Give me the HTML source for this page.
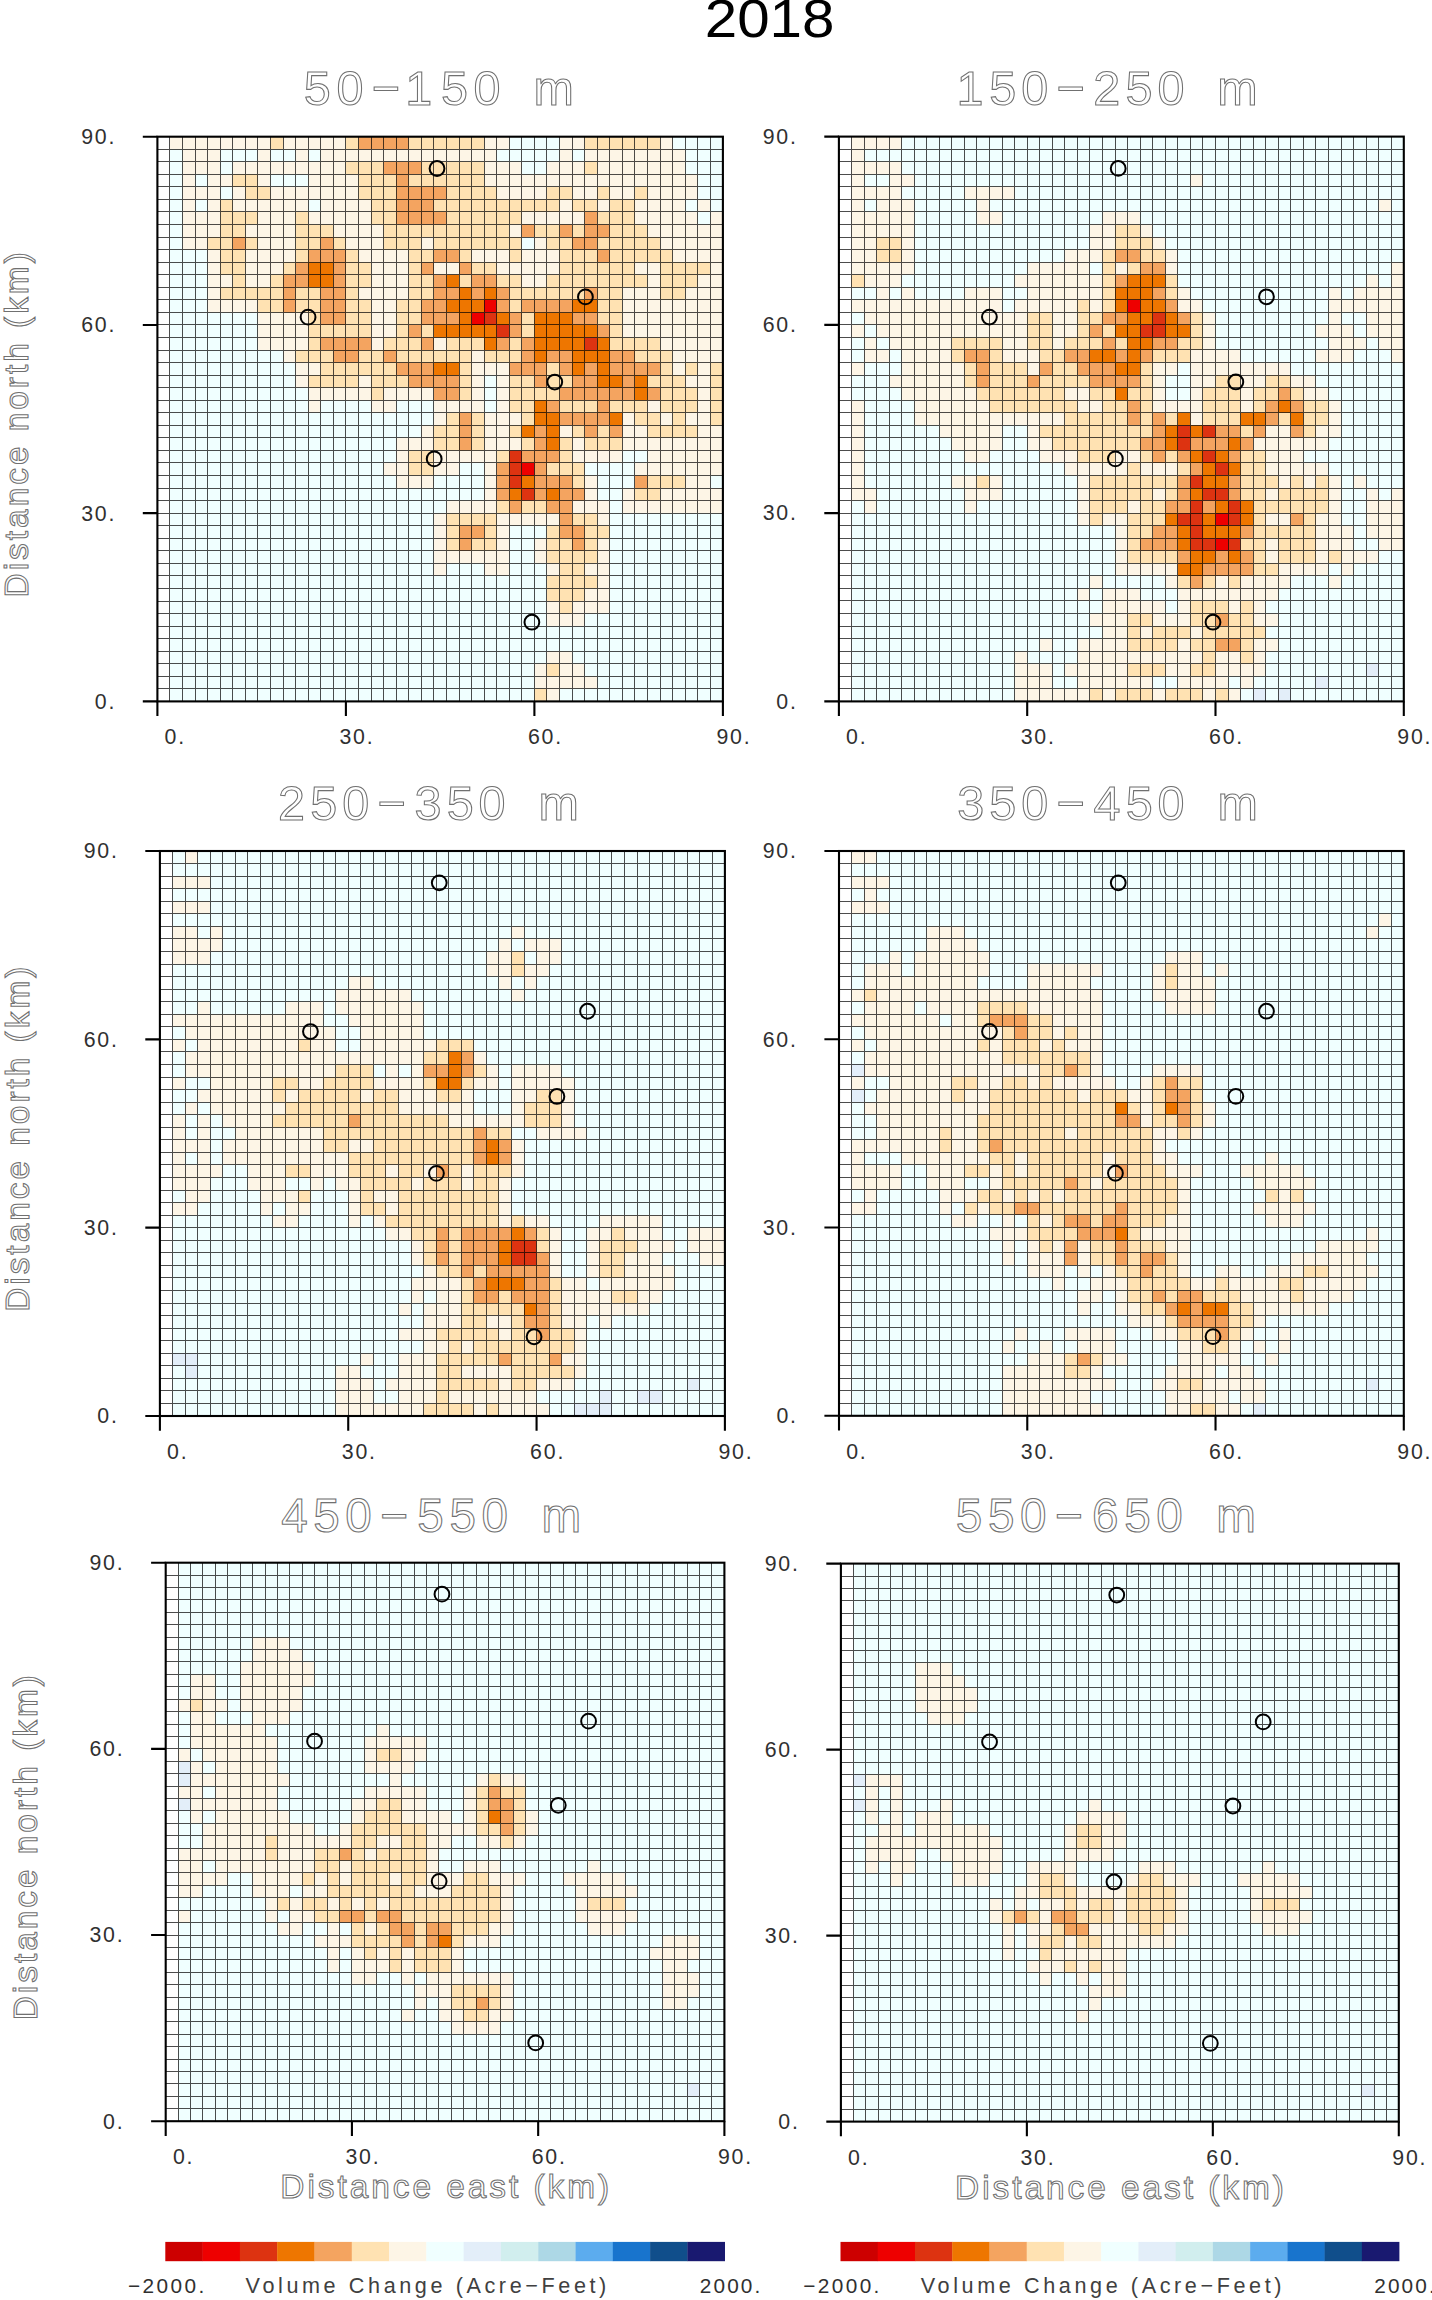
<!DOCTYPE html>
<html><head><meta charset="utf-8"><style>
html,body{margin:0;padding:0;background:#fff;}
svg{display:block;font-family:"Liberation Sans",sans-serif;}
</style></head><body>
<svg width="1432" height="2300" viewBox="0 0 1432 2300">
<rect width="1432" height="2300" fill="#fff"/>
<rect x="157.4" y="136.7" width="565.5" height="564.7" fill="#f0ffff"/>
<rect x="157.4" y="136.7" width="12.57" height="564.7" fill="#fff"/>
<path fill="#fdf5e6" d="M169.97 136.7h100.53v12.55h-100.53zM283.07 136.7h62.83v12.55h-62.83zM484.13 136.7h25.13v12.55h-25.13zM559.53 136.7h25.13v12.55h-25.13zM660.07 136.7h12.57v12.55h-12.57zM182.53 149.25h37.7v12.55h-37.7zM257.93 149.25h12.57v12.55h-12.57zM295.63 149.25h12.57v12.55h-12.57zM320.77 149.25h175.93v12.55h-175.93zM559.53 149.25h12.57v12.55h-12.57zM584.67 149.25h100.53v12.55h-100.53zM182.53 161.8h37.7v12.55h-37.7zM232.8 161.8h113.1v12.55h-113.1zM484.13 161.8h37.7v12.55h-37.7zM546.97 161.8h37.7v12.55h-37.7zM597.23 161.8h87.97v12.55h-87.97zM182.53 174.35h12.57v12.55h-12.57zM207.67 174.35h25.13v12.55h-25.13zM257.93 174.35h12.57v12.55h-12.57zM308.2 174.35h50.27v12.55h-50.27zM484.13 174.35h213.63v12.55h-213.63zM182.53 186.9h37.7v12.55h-37.7zM232.8 186.9h12.57v12.55h-12.57zM270.5 186.9h87.97v12.55h-87.97zM496.7 186.9h50.27v12.55h-50.27zM572.1 186.9h25.13v12.55h-25.13zM609.8 186.9h25.13v12.55h-25.13zM647.5 186.9h50.27v12.55h-50.27zM182.53 199.44h12.57v12.55h-12.57zM207.67 199.44h12.57v12.55h-12.57zM232.8 199.44h75.4v12.55h-75.4zM320.77 199.44h50.27v12.55h-50.27zM559.53 199.44h12.57v12.55h-12.57zM597.23 199.44h12.57v12.55h-12.57zM634.93 199.44h50.27v12.55h-50.27zM697.77 199.44h12.57v12.55h-12.57zM182.53 211.99h37.7v12.55h-37.7zM257.93 211.99h37.7v12.55h-37.7zM308.2 211.99h62.83v12.55h-62.83zM521.83 211.99h62.83v12.55h-62.83zM634.93 211.99h62.83v12.55h-62.83zM710.33 211.99h12.57v12.55h-12.57zM182.53 224.54h37.7v12.55h-37.7zM245.37 224.54h50.27v12.55h-50.27zM333.33 224.54h50.27v12.55h-50.27zM509.27 224.54h12.57v12.55h-12.57zM647.5 224.54h75.4v12.55h-75.4zM182.53 237.09h25.13v12.55h-25.13zM257.93 237.09h37.7v12.55h-37.7zM345.9 237.09h37.7v12.55h-37.7zM421.3 237.09h12.57v12.55h-12.57zM534.4 237.09h12.57v12.55h-12.57zM660.07 237.09h62.83v12.55h-62.83zM207.67 249.64h12.57v12.55h-12.57zM245.37 249.64h50.27v12.55h-50.27zM358.47 249.64h50.27v12.55h-50.27zM471.57 249.64h37.7v12.55h-37.7zM521.83 249.64h37.7v12.55h-37.7zM672.63 249.64h50.27v12.55h-50.27zM207.67 262.19h12.57v12.55h-12.57zM245.37 262.19h37.7v12.55h-37.7zM371.03 262.19h37.7v12.55h-37.7zM433.87 262.19h25.13v12.55h-25.13zM496.7 262.19h62.83v12.55h-62.83zM634.93 262.19h25.13v12.55h-25.13zM710.33 262.19h12.57v12.55h-12.57zM207.67 274.74h25.13v12.55h-25.13zM245.37 274.74h25.13v12.55h-25.13zM371.03 274.74h37.7v12.55h-37.7zM521.83 274.74h25.13v12.55h-25.13zM647.5 274.74h12.57v12.55h-12.57zM697.77 274.74h25.13v12.55h-25.13zM207.67 287.29h12.57v12.55h-12.57zM358.47 287.29h50.27v12.55h-50.27zM622.37 287.29h37.7v12.55h-37.7zM685.2 287.29h37.7v12.55h-37.7zM207.67 299.84h50.27v12.55h-50.27zM371.03 299.84h25.13v12.55h-25.13zM622.37 299.84h100.53v12.55h-100.53zM257.93 312.38h50.27v12.55h-50.27zM371.03 312.38h25.13v12.55h-25.13zM622.37 312.38h100.53v12.55h-100.53zM257.93 324.93h50.27v12.55h-50.27zM371.03 324.93h25.13v12.55h-25.13zM622.37 324.93h100.53v12.55h-100.53zM257.93 337.48h50.27v12.55h-50.27zM371.03 337.48h12.57v12.55h-12.57zM433.87 337.48h12.57v12.55h-12.57zM660.07 337.48h62.83v12.55h-62.83zM283.07 350.03h12.57v12.55h-12.57zM471.57 350.03h12.57v12.55h-12.57zM672.63 350.03h50.27v12.55h-50.27zM295.63 362.58h25.13v12.55h-25.13zM471.57 362.58h37.7v12.55h-37.7zM672.63 362.58h12.57v12.55h-12.57zM697.77 362.58h12.57v12.55h-12.57zM295.63 375.13h12.57v12.55h-12.57zM358.47 375.13h12.57v12.55h-12.57zM471.57 375.13h12.57v12.55h-12.57zM496.7 375.13h12.57v12.55h-12.57zM685.2 375.13h25.13v12.55h-25.13zM308.2 387.68h62.83v12.55h-62.83zM383.6 387.68h50.27v12.55h-50.27zM471.57 387.68h12.57v12.55h-12.57zM496.7 387.68h12.57v12.55h-12.57zM697.77 387.68h12.57v12.55h-12.57zM308.2 400.23h12.57v12.55h-12.57zM371.03 400.23h25.13v12.55h-25.13zM433.87 400.23h50.27v12.55h-50.27zM496.7 400.23h12.57v12.55h-12.57zM647.5 400.23h12.57v12.55h-12.57zM697.77 400.23h12.57v12.55h-12.57zM433.87 412.78h12.57v12.55h-12.57zM484.13 412.78h37.7v12.55h-37.7zM622.37 412.78h12.57v12.55h-12.57zM660.07 412.78h12.57v12.55h-12.57zM685.2 412.78h25.13v12.55h-25.13zM421.3 425.32h12.57v12.55h-12.57zM484.13 425.32h25.13v12.55h-25.13zM559.53 425.32h12.57v12.55h-12.57zM622.37 425.32h25.13v12.55h-25.13zM697.77 425.32h25.13v12.55h-25.13zM396.17 437.87h37.7v12.55h-37.7zM484.13 437.87h37.7v12.55h-37.7zM572.1 437.87h12.57v12.55h-12.57zM622.37 437.87h100.53v12.55h-100.53zM396.17 450.42h12.57v12.55h-12.57zM433.87 450.42h62.83v12.55h-62.83zM572.1 450.42h50.27v12.55h-50.27zM647.5 450.42h75.4v12.55h-75.4zM383.6 462.97h25.13v12.55h-25.13zM433.87 462.97h25.13v12.55h-25.13zM484.13 462.97h12.57v12.55h-12.57zM634.93 462.97h87.97v12.55h-87.97zM396.17 475.52h37.7v12.55h-37.7zM484.13 475.52h12.57v12.55h-12.57zM584.67 475.52h12.57v12.55h-12.57zM685.2 475.52h25.13v12.55h-25.13zM484.13 488.07h12.57v12.55h-12.57zM584.67 488.07h12.57v12.55h-12.57zM622.37 488.07h12.57v12.55h-12.57zM660.07 488.07h62.83v12.55h-62.83zM446.43 500.62h50.27v12.55h-50.27zM572.1 500.62h37.7v12.55h-37.7zM622.37 500.62h100.53v12.55h-100.53zM433.87 513.17h12.57v12.55h-12.57zM496.7 513.17h62.83v12.55h-62.83zM597.23 513.17h12.57v12.55h-12.57zM433.87 525.72h12.57v12.55h-12.57zM496.7 525.72h12.57v12.55h-12.57zM433.87 538.26h12.57v12.55h-12.57zM496.7 538.26h12.57v12.55h-12.57zM534.4 538.26h12.57v12.55h-12.57zM597.23 538.26h12.57v12.55h-12.57zM433.87 550.81h75.4v12.55h-75.4zM534.4 550.81h12.57v12.55h-12.57zM597.23 550.81h12.57v12.55h-12.57zM433.87 563.36h12.57v12.55h-12.57zM484.13 563.36h25.13v12.55h-25.13zM546.97 563.36h12.57v12.55h-12.57zM584.67 563.36h25.13v12.55h-25.13zM597.23 575.91h12.57v12.55h-12.57zM584.67 588.46h25.13v12.55h-25.13zM546.97 601.01h12.57v12.55h-12.57zM572.1 601.01h37.7v12.55h-37.7zM546.97 613.56h37.7v12.55h-37.7zM546.97 651.2h25.13v12.55h-25.13zM534.4 663.75h12.57v12.55h-12.57zM559.53 663.75h25.13v12.55h-25.13zM534.4 676.3h62.83v12.55h-62.83zM546.97 688.85h12.57v12.55h-12.57z"/>
<path fill="#ffe2b2" d="M270.5 136.7h12.57v12.55h-12.57zM345.9 136.7h12.57v12.55h-12.57zM408.73 136.7h75.4v12.55h-75.4zM584.67 136.7h75.4v12.55h-75.4zM345.9 161.8h37.7v12.55h-37.7zM421.3 161.8h62.83v12.55h-62.83zM584.67 161.8h12.57v12.55h-12.57zM232.8 174.35h25.13v12.55h-25.13zM358.47 174.35h37.7v12.55h-37.7zM408.73 174.35h75.4v12.55h-75.4zM245.37 186.9h25.13v12.55h-25.13zM358.47 186.9h37.7v12.55h-37.7zM446.43 186.9h50.27v12.55h-50.27zM546.97 186.9h25.13v12.55h-25.13zM597.23 186.9h12.57v12.55h-12.57zM634.93 186.9h12.57v12.55h-12.57zM220.23 199.44h12.57v12.55h-12.57zM371.03 199.44h25.13v12.55h-25.13zM433.87 199.44h125.67v12.55h-125.67zM572.1 199.44h25.13v12.55h-25.13zM609.8 199.44h25.13v12.55h-25.13zM220.23 211.99h37.7v12.55h-37.7zM295.63 211.99h12.57v12.55h-12.57zM371.03 211.99h25.13v12.55h-25.13zM446.43 211.99h75.4v12.55h-75.4zM597.23 211.99h37.7v12.55h-37.7zM220.23 224.54h25.13v12.55h-25.13zM295.63 224.54h37.7v12.55h-37.7zM383.6 224.54h125.67v12.55h-125.67zM534.4 224.54h25.13v12.55h-25.13zM572.1 224.54h12.57v12.55h-12.57zM609.8 224.54h37.7v12.55h-37.7zM207.67 237.09h25.13v12.55h-25.13zM245.37 237.09h12.57v12.55h-12.57zM295.63 237.09h25.13v12.55h-25.13zM333.33 237.09h12.57v12.55h-12.57zM383.6 237.09h37.7v12.55h-37.7zM433.87 237.09h87.97v12.55h-87.97zM546.97 237.09h25.13v12.55h-25.13zM597.23 237.09h62.83v12.55h-62.83zM220.23 249.64h25.13v12.55h-25.13zM295.63 249.64h12.57v12.55h-12.57zM345.9 249.64h12.57v12.55h-12.57zM408.73 249.64h25.13v12.55h-25.13zM459 249.64h12.57v12.55h-12.57zM509.27 249.64h12.57v12.55h-12.57zM559.53 249.64h37.7v12.55h-37.7zM609.8 249.64h62.83v12.55h-62.83zM220.23 262.19h25.13v12.55h-25.13zM283.07 262.19h12.57v12.55h-12.57zM345.9 262.19h25.13v12.55h-25.13zM408.73 262.19h12.57v12.55h-12.57zM471.57 262.19h25.13v12.55h-25.13zM559.53 262.19h75.4v12.55h-75.4zM660.07 262.19h50.27v12.55h-50.27zM232.8 274.74h12.57v12.55h-12.57zM270.5 274.74h12.57v12.55h-12.57zM345.9 274.74h25.13v12.55h-25.13zM408.73 274.74h25.13v12.55h-25.13zM459 274.74h12.57v12.55h-12.57zM496.7 274.74h25.13v12.55h-25.13zM546.97 274.74h100.53v12.55h-100.53zM660.07 274.74h37.7v12.55h-37.7zM220.23 287.29h62.83v12.55h-62.83zM295.63 287.29h25.13v12.55h-25.13zM345.9 287.29h12.57v12.55h-12.57zM408.73 287.29h25.13v12.55h-25.13zM509.27 287.29h75.4v12.55h-75.4zM597.23 287.29h25.13v12.55h-25.13zM660.07 287.29h25.13v12.55h-25.13zM257.93 299.84h25.13v12.55h-25.13zM295.63 299.84h25.13v12.55h-25.13zM345.9 299.84h25.13v12.55h-25.13zM396.17 299.84h25.13v12.55h-25.13zM509.27 299.84h12.57v12.55h-12.57zM597.23 299.84h25.13v12.55h-25.13zM308.2 312.38h12.57v12.55h-12.57zM345.9 312.38h25.13v12.55h-25.13zM396.17 312.38h25.13v12.55h-25.13zM521.83 312.38h12.57v12.55h-12.57zM597.23 312.38h25.13v12.55h-25.13zM308.2 324.93h62.83v12.55h-62.83zM396.17 324.93h12.57v12.55h-12.57zM421.3 324.93h12.57v12.55h-12.57zM521.83 324.93h12.57v12.55h-12.57zM609.8 324.93h12.57v12.55h-12.57zM308.2 337.48h12.57v12.55h-12.57zM383.6 337.48h37.7v12.55h-37.7zM446.43 337.48h37.7v12.55h-37.7zM509.27 337.48h12.57v12.55h-12.57zM609.8 337.48h50.27v12.55h-50.27zM295.63 350.03h37.7v12.55h-37.7zM358.47 350.03h25.13v12.55h-25.13zM396.17 350.03h75.4v12.55h-75.4zM484.13 350.03h37.7v12.55h-37.7zM634.93 350.03h37.7v12.55h-37.7zM320.77 362.58h75.4v12.55h-75.4zM459 362.58h12.57v12.55h-12.57zM546.97 362.58h12.57v12.55h-12.57zM660.07 362.58h12.57v12.55h-12.57zM685.2 362.58h12.57v12.55h-12.57zM710.33 362.58h12.57v12.55h-12.57zM308.2 375.13h50.27v12.55h-50.27zM371.03 375.13h37.7v12.55h-37.7zM459 375.13h12.57v12.55h-12.57zM509.27 375.13h25.13v12.55h-25.13zM546.97 375.13h25.13v12.55h-25.13zM647.5 375.13h37.7v12.55h-37.7zM710.33 375.13h12.57v12.55h-12.57zM371.03 387.68h12.57v12.55h-12.57zM459 387.68h12.57v12.55h-12.57zM509.27 387.68h50.27v12.55h-50.27zM660.07 387.68h37.7v12.55h-37.7zM710.33 387.68h12.57v12.55h-12.57zM509.27 400.23h25.13v12.55h-25.13zM559.53 400.23h37.7v12.55h-37.7zM609.8 400.23h37.7v12.55h-37.7zM660.07 400.23h37.7v12.55h-37.7zM710.33 400.23h12.57v12.55h-12.57zM446.43 412.78h12.57v12.55h-12.57zM471.57 412.78h12.57v12.55h-12.57zM521.83 412.78h12.57v12.55h-12.57zM634.93 412.78h25.13v12.55h-25.13zM672.63 412.78h12.57v12.55h-12.57zM710.33 412.78h12.57v12.55h-12.57zM433.87 425.32h25.13v12.55h-25.13zM471.57 425.32h12.57v12.55h-12.57zM509.27 425.32h12.57v12.55h-12.57zM572.1 425.32h12.57v12.55h-12.57zM597.23 425.32h12.57v12.55h-12.57zM647.5 425.32h50.27v12.55h-50.27zM433.87 437.87h25.13v12.55h-25.13zM471.57 437.87h12.57v12.55h-12.57zM521.83 437.87h12.57v12.55h-12.57zM559.53 437.87h12.57v12.55h-12.57zM584.67 437.87h37.7v12.55h-37.7zM408.73 450.42h25.13v12.55h-25.13zM496.7 450.42h12.57v12.55h-12.57zM559.53 450.42h12.57v12.55h-12.57zM408.73 462.97h25.13v12.55h-25.13zM546.97 462.97h37.7v12.55h-37.7zM572.1 475.52h12.57v12.55h-12.57zM647.5 475.52h37.7v12.55h-37.7zM634.93 488.07h25.13v12.55h-25.13zM496.7 500.62h12.57v12.55h-12.57zM521.83 500.62h25.13v12.55h-25.13zM446.43 513.17h50.27v12.55h-50.27zM572.1 513.17h25.13v12.55h-25.13zM446.43 525.72h12.57v12.55h-12.57zM484.13 525.72h12.57v12.55h-12.57zM546.97 525.72h12.57v12.55h-12.57zM584.67 525.72h25.13v12.55h-25.13zM446.43 538.26h12.57v12.55h-12.57zM471.57 538.26h25.13v12.55h-25.13zM546.97 538.26h25.13v12.55h-25.13zM584.67 538.26h12.57v12.55h-12.57zM546.97 550.81h50.27v12.55h-50.27zM559.53 563.36h25.13v12.55h-25.13zM546.97 575.91h50.27v12.55h-50.27zM546.97 588.46h37.7v12.55h-37.7zM559.53 601.01h12.57v12.55h-12.57zM546.97 663.75h12.57v12.55h-12.57zM534.4 688.85h12.57v12.55h-12.57z"/>
<path fill="#f4a460" d="M358.47 136.7h50.27v12.55h-50.27zM383.6 161.8h37.7v12.55h-37.7zM396.17 174.35h12.57v12.55h-12.57zM396.17 186.9h50.27v12.55h-50.27zM396.17 199.44h37.7v12.55h-37.7zM396.17 211.99h50.27v12.55h-50.27zM584.67 211.99h12.57v12.55h-12.57zM521.83 224.54h12.57v12.55h-12.57zM559.53 224.54h12.57v12.55h-12.57zM584.67 224.54h25.13v12.55h-25.13zM232.8 237.09h12.57v12.55h-12.57zM320.77 237.09h12.57v12.55h-12.57zM572.1 237.09h25.13v12.55h-25.13zM308.2 249.64h37.7v12.55h-37.7zM433.87 249.64h25.13v12.55h-25.13zM597.23 249.64h12.57v12.55h-12.57zM295.63 262.19h12.57v12.55h-12.57zM333.33 262.19h12.57v12.55h-12.57zM421.3 262.19h12.57v12.55h-12.57zM459 262.19h12.57v12.55h-12.57zM283.07 274.74h25.13v12.55h-25.13zM333.33 274.74h12.57v12.55h-12.57zM433.87 274.74h12.57v12.55h-12.57zM471.57 274.74h25.13v12.55h-25.13zM283.07 287.29h12.57v12.55h-12.57zM320.77 287.29h25.13v12.55h-25.13zM433.87 287.29h25.13v12.55h-25.13zM471.57 287.29h12.57v12.55h-12.57zM496.7 287.29h12.57v12.55h-12.57zM584.67 287.29h12.57v12.55h-12.57zM283.07 299.84h12.57v12.55h-12.57zM320.77 299.84h25.13v12.55h-25.13zM421.3 299.84h25.13v12.55h-25.13zM496.7 299.84h12.57v12.55h-12.57zM521.83 299.84h50.27v12.55h-50.27zM320.77 312.38h25.13v12.55h-25.13zM421.3 312.38h37.7v12.55h-37.7zM509.27 312.38h12.57v12.55h-12.57zM572.1 312.38h25.13v12.55h-25.13zM408.73 324.93h12.57v12.55h-12.57zM509.27 324.93h12.57v12.55h-12.57zM597.23 324.93h12.57v12.55h-12.57zM320.77 337.48h50.27v12.55h-50.27zM421.3 337.48h12.57v12.55h-12.57zM496.7 337.48h12.57v12.55h-12.57zM521.83 337.48h12.57v12.55h-12.57zM333.33 350.03h25.13v12.55h-25.13zM383.6 350.03h12.57v12.55h-12.57zM521.83 350.03h12.57v12.55h-12.57zM546.97 350.03h25.13v12.55h-25.13zM609.8 350.03h25.13v12.55h-25.13zM396.17 362.58h37.7v12.55h-37.7zM509.27 362.58h37.7v12.55h-37.7zM559.53 362.58h12.57v12.55h-12.57zM584.67 362.58h12.57v12.55h-12.57zM609.8 362.58h50.27v12.55h-50.27zM408.73 375.13h50.27v12.55h-50.27zM534.4 375.13h12.57v12.55h-12.57zM572.1 375.13h25.13v12.55h-25.13zM622.37 375.13h12.57v12.55h-12.57zM433.87 387.68h25.13v12.55h-25.13zM559.53 387.68h75.4v12.55h-75.4zM647.5 387.68h12.57v12.55h-12.57zM546.97 400.23h12.57v12.55h-12.57zM597.23 400.23h12.57v12.55h-12.57zM459 412.78h12.57v12.55h-12.57zM559.53 412.78h50.27v12.55h-50.27zM459 425.32h12.57v12.55h-12.57zM534.4 425.32h12.57v12.55h-12.57zM584.67 425.32h12.57v12.55h-12.57zM609.8 425.32h12.57v12.55h-12.57zM459 437.87h12.57v12.55h-12.57zM534.4 437.87h12.57v12.55h-12.57zM521.83 450.42h37.7v12.55h-37.7zM496.7 462.97h12.57v12.55h-12.57zM534.4 462.97h12.57v12.55h-12.57zM496.7 475.52h12.57v12.55h-12.57zM534.4 475.52h37.7v12.55h-37.7zM634.93 475.52h12.57v12.55h-12.57zM496.7 488.07h12.57v12.55h-12.57zM534.4 488.07h12.57v12.55h-12.57zM559.53 488.07h25.13v12.55h-25.13zM509.27 500.62h12.57v12.55h-12.57zM546.97 500.62h25.13v12.55h-25.13zM559.53 513.17h12.57v12.55h-12.57zM459 525.72h25.13v12.55h-25.13zM559.53 525.72h25.13v12.55h-25.13zM459 538.26h12.57v12.55h-12.57zM572.1 538.26h12.57v12.55h-12.57z"/>
<path fill="#ee7600" d="M308.2 262.19h25.13v12.55h-25.13zM308.2 274.74h25.13v12.55h-25.13zM446.43 274.74h12.57v12.55h-12.57zM459 287.29h12.57v12.55h-12.57zM484.13 287.29h12.57v12.55h-12.57zM446.43 299.84h37.7v12.55h-37.7zM572.1 299.84h25.13v12.55h-25.13zM459 312.38h12.57v12.55h-12.57zM496.7 312.38h12.57v12.55h-12.57zM534.4 312.38h37.7v12.55h-37.7zM433.87 324.93h62.83v12.55h-62.83zM534.4 324.93h62.83v12.55h-62.83zM484.13 337.48h12.57v12.55h-12.57zM534.4 337.48h50.27v12.55h-50.27zM597.23 337.48h12.57v12.55h-12.57zM534.4 350.03h12.57v12.55h-12.57zM572.1 350.03h37.7v12.55h-37.7zM433.87 362.58h25.13v12.55h-25.13zM572.1 362.58h12.57v12.55h-12.57zM597.23 362.58h12.57v12.55h-12.57zM597.23 375.13h25.13v12.55h-25.13zM634.93 375.13h12.57v12.55h-12.57zM634.93 387.68h12.57v12.55h-12.57zM534.4 400.23h12.57v12.55h-12.57zM534.4 412.78h25.13v12.55h-25.13zM609.8 412.78h12.57v12.55h-12.57zM521.83 425.32h12.57v12.55h-12.57zM546.97 425.32h12.57v12.55h-12.57zM546.97 437.87h12.57v12.55h-12.57zM521.83 475.52h12.57v12.55h-12.57zM509.27 488.07h12.57v12.55h-12.57zM546.97 488.07h12.57v12.55h-12.57z"/>
<path fill="#ee0000" d="M484.13 299.84h12.57v12.55h-12.57zM471.57 312.38h12.57v12.55h-12.57zM521.83 462.97h12.57v12.55h-12.57z"/>
<path fill="#dd3311" d="M484.13 312.38h12.57v12.55h-12.57zM496.7 324.93h12.57v12.55h-12.57zM584.67 337.48h12.57v12.55h-12.57zM509.27 450.42h12.57v12.55h-12.57zM509.27 462.97h12.57v12.55h-12.57zM509.27 475.52h12.57v12.55h-12.57zM521.83 488.07h12.57v12.55h-12.57z"/>
<path fill="none" stroke="#000" stroke-width="1" stroke-opacity="0.7" shape-rendering="crispEdges" d="M169.97 136.7V701.4M157.4 149.25H722.9M182.53 136.7V701.4M157.4 161.8H722.9M195.1 136.7V701.4M157.4 174.35H722.9M207.67 136.7V701.4M157.4 186.9H722.9M220.23 136.7V701.4M157.4 199.44H722.9M232.8 136.7V701.4M157.4 211.99H722.9M245.37 136.7V701.4M157.4 224.54H722.9M257.93 136.7V701.4M157.4 237.09H722.9M270.5 136.7V701.4M157.4 249.64H722.9M283.07 136.7V701.4M157.4 262.19H722.9M295.63 136.7V701.4M157.4 274.74H722.9M308.2 136.7V701.4M157.4 287.29H722.9M320.77 136.7V701.4M157.4 299.84H722.9M333.33 136.7V701.4M157.4 312.38H722.9M345.9 136.7V701.4M157.4 324.93H722.9M358.47 136.7V701.4M157.4 337.48H722.9M371.03 136.7V701.4M157.4 350.03H722.9M383.6 136.7V701.4M157.4 362.58H722.9M396.17 136.7V701.4M157.4 375.13H722.9M408.73 136.7V701.4M157.4 387.68H722.9M421.3 136.7V701.4M157.4 400.23H722.9M433.87 136.7V701.4M157.4 412.78H722.9M446.43 136.7V701.4M157.4 425.32H722.9M459 136.7V701.4M157.4 437.87H722.9M471.57 136.7V701.4M157.4 450.42H722.9M484.13 136.7V701.4M157.4 462.97H722.9M496.7 136.7V701.4M157.4 475.52H722.9M509.27 136.7V701.4M157.4 488.07H722.9M521.83 136.7V701.4M157.4 500.62H722.9M534.4 136.7V701.4M157.4 513.17H722.9M546.97 136.7V701.4M157.4 525.72H722.9M559.53 136.7V701.4M157.4 538.26H722.9M572.1 136.7V701.4M157.4 550.81H722.9M584.67 136.7V701.4M157.4 563.36H722.9M597.23 136.7V701.4M157.4 575.91H722.9M609.8 136.7V701.4M157.4 588.46H722.9M622.37 136.7V701.4M157.4 601.01H722.9M634.93 136.7V701.4M157.4 613.56H722.9M647.5 136.7V701.4M157.4 626.11H722.9M660.07 136.7V701.4M157.4 638.66H722.9M672.63 136.7V701.4M157.4 651.2H722.9M685.2 136.7V701.4M157.4 663.75H722.9M697.77 136.7V701.4M157.4 676.3H722.9M710.33 136.7V701.4M157.4 688.85H722.9"/>
<rect x="157.4" y="136.7" width="565.5" height="564.7" fill="none" stroke="#000" stroke-width="2.1"/>
<path stroke="#000" stroke-width="2.1" fill="none" d="M142.8 701.4H157.4M157.4 701.4V716.1M142.8 513.17H157.4M345.9 701.4V716.1M142.8 324.93H157.4M534.4 701.4V716.1M142.8 136.7H157.4M722.9 701.4V716.1"/>
<circle cx="437.01" cy="168.51" r="7.4" fill="none" stroke="#000" stroke-width="2"/>
<circle cx="308.07" cy="317.15" r="7.4" fill="none" stroke="#000" stroke-width="2"/>
<circle cx="585.42" cy="296.89" r="7.4" fill="none" stroke="#000" stroke-width="2"/>
<circle cx="554.76" cy="382.03" r="7.4" fill="none" stroke="#000" stroke-width="2"/>
<circle cx="434.18" cy="458.89" r="7.4" fill="none" stroke="#000" stroke-width="2"/>
<circle cx="531.89" cy="622.22" r="7.4" fill="none" stroke="#000" stroke-width="2"/>
<text x="94.78" y="708.73" font-size="21.3" letter-spacing="1.8" fill="#303030">0.</text>
<text x="164.58" y="744.33" font-size="21.3" letter-spacing="1.8" fill="#303030">0.</text>
<text x="81.13" y="520.5" font-size="21.3" letter-spacing="1.8" fill="#303030">30.</text>
<text x="339.43" y="744.33" font-size="21.3" letter-spacing="1.8" fill="#303030">30.</text>
<text x="81.13" y="332.27" font-size="21.3" letter-spacing="1.8" fill="#303030">60.</text>
<text x="527.93" y="744.33" font-size="21.3" letter-spacing="1.8" fill="#303030">60.</text>
<text x="81.13" y="144.03" font-size="21.3" letter-spacing="1.8" fill="#303030">90.</text>
<text x="716.43" y="744.33" font-size="21.3" letter-spacing="1.8" fill="#303030">90.</text>
<text x="303.86 336.51 371.73 405.25 441.06 473.51 533.49" y="105.2" font-size="48.5" fill="none" stroke="#707070" stroke-width="1.05">50−150m</text>
<g transform="translate(27.6 424.45) rotate(-90)"><text x="-172.94" y="0" font-size="33.4" letter-spacing="2.99" fill="none" stroke="#707070" stroke-width="1.05">Distance north (km)</text></g>
<rect x="838.9" y="136.6" width="564.9" height="564.8" fill="#f0ffff"/>
<rect x="838.9" y="136.6" width="12.55" height="564.8" fill="#fff"/>
<path fill="#fdf5e6" d="M851.45 136.6h50.21v12.55h-50.21zM851.45 149.15h12.55v12.55h-12.55zM851.45 161.7h50.21v12.55h-50.21zM851.45 174.25h12.55v12.55h-12.55zM889.11 174.25h25.11v12.55h-25.11zM1190.39 174.25h12.55v12.55h-12.55zM851.45 186.8h50.21v12.55h-50.21zM964.43 186.8h50.21v12.55h-50.21zM851.45 199.36h12.55v12.55h-12.55zM876.56 199.36h37.66v12.55h-37.66zM976.99 199.36h12.55v12.55h-12.55zM1378.69 199.36h12.55v12.55h-12.55zM851.45 211.91h62.77v12.55h-62.77zM976.99 211.91h25.11v12.55h-25.11zM1102.52 211.91h37.66v12.55h-37.66zM851.45 224.46h62.77v12.55h-62.77zM1089.97 224.46h25.11v12.55h-25.11zM1140.18 224.46h12.55v12.55h-12.55zM851.45 237.01h25.11v12.55h-25.11zM901.67 237.01h12.55v12.55h-12.55zM1089.97 237.01h25.11v12.55h-25.11zM1152.73 237.01h12.55v12.55h-12.55zM851.45 249.56h25.11v12.55h-25.11zM901.67 249.56h12.55v12.55h-12.55zM1064.86 249.56h37.66v12.55h-37.66zM1165.29 249.56h12.55v12.55h-12.55zM851.45 262.11h62.77v12.55h-62.77zM1027.2 262.11h62.77v12.55h-62.77zM1115.07 262.11h12.55v12.55h-12.55zM1165.29 262.11h12.55v12.55h-12.55zM1391.25 262.11h12.55v12.55h-12.55zM864.01 274.66h37.66v12.55h-37.66zM1014.65 274.66h87.87v12.55h-87.87zM1366.14 274.66h12.55v12.55h-12.55zM1391.25 274.66h12.55v12.55h-12.55zM876.56 287.21h12.55v12.55h-12.55zM901.67 287.21h12.55v12.55h-12.55zM964.43 287.21h37.66v12.55h-37.66zM1027.2 287.21h75.32v12.55h-75.32zM1177.84 287.21h12.55v12.55h-12.55zM1328.48 287.21h12.55v12.55h-12.55zM1353.59 287.21h50.21v12.55h-50.21zM851.45 299.76h150.64v12.55h-150.64zM1014.65 299.76h62.77v12.55h-62.77zM1089.97 299.76h12.55v12.55h-12.55zM1177.84 299.76h25.11v12.55h-25.11zM1328.48 299.76h75.32v12.55h-75.32zM864.01 312.32h163.19v12.55h-163.19zM1052.31 312.32h25.11v12.55h-25.11zM1202.95 312.32h12.55v12.55h-12.55zM1328.48 312.32h12.55v12.55h-12.55zM1366.14 312.32h37.66v12.55h-37.66zM851.45 324.87h12.55v12.55h-12.55zM876.56 324.87h150.64v12.55h-150.64zM1052.31 324.87h25.11v12.55h-25.11zM1202.95 324.87h12.55v12.55h-12.55zM1315.93 324.87h37.66v12.55h-37.66zM1366.14 324.87h37.66v12.55h-37.66zM864.01 337.42h12.55v12.55h-12.55zM889.11 337.42h62.77v12.55h-62.77zM1002.09 337.42h25.11v12.55h-25.11zM1052.31 337.42h12.55v12.55h-12.55zM1202.95 337.42h12.55v12.55h-12.55zM1328.48 337.42h37.66v12.55h-37.66zM1378.69 337.42h25.11v12.55h-25.11zM864.01 349.97h25.11v12.55h-25.11zM901.67 349.97h50.21v12.55h-50.21zM1002.09 349.97h37.66v12.55h-37.66zM1190.39 349.97h50.21v12.55h-50.21zM1315.93 349.97h37.66v12.55h-37.66zM1391.25 349.97h12.55v12.55h-12.55zM851.45 362.52h12.55v12.55h-12.55zM901.67 362.52h62.77v12.55h-62.77zM1027.2 362.52h12.55v12.55h-12.55zM1152.73 362.52h25.11v12.55h-25.11zM1190.39 362.52h100.43v12.55h-100.43zM889.11 375.07h75.32v12.55h-75.32zM1152.73 375.07h12.55v12.55h-12.55zM1190.39 375.07h25.11v12.55h-25.11zM1240.61 375.07h25.11v12.55h-25.11zM1290.82 375.07h25.11v12.55h-25.11zM901.67 387.62h75.32v12.55h-75.32zM1064.86 387.62h25.11v12.55h-25.11zM1152.73 387.62h12.55v12.55h-12.55zM1190.39 387.62h12.55v12.55h-12.55zM1240.61 387.62h12.55v12.55h-12.55zM1303.37 387.62h25.11v12.55h-25.11zM851.45 400.17h12.55v12.55h-12.55zM914.22 400.17h75.32v12.55h-75.32zM1077.41 400.17h25.11v12.55h-25.11zM1152.73 400.17h50.21v12.55h-50.21zM1240.61 400.17h12.55v12.55h-12.55zM1328.48 400.17h12.55v12.55h-12.55zM851.45 412.72h12.55v12.55h-12.55zM914.22 412.72h150.64v12.55h-150.64zM1190.39 412.72h12.55v12.55h-12.55zM1328.48 412.72h12.55v12.55h-12.55zM851.45 425.28h12.55v12.55h-12.55zM939.33 425.28h62.77v12.55h-62.77zM1027.2 425.28h12.55v12.55h-12.55zM1265.71 425.28h25.11v12.55h-25.11zM1315.93 425.28h25.11v12.55h-25.11zM851.45 437.83h12.55v12.55h-12.55zM951.88 437.83h50.21v12.55h-50.21zM1027.2 437.83h25.11v12.55h-25.11zM1253.16 437.83h75.32v12.55h-75.32zM851.45 450.38h12.55v12.55h-12.55zM964.43 450.38h25.11v12.55h-25.11zM1039.75 450.38h37.66v12.55h-37.66zM1115.07 450.38h25.11v12.55h-25.11zM1265.71 450.38h37.66v12.55h-37.66zM851.45 462.93h12.55v12.55h-12.55zM1064.86 462.93h62.77v12.55h-62.77zM1140.18 462.93h37.66v12.55h-37.66zM1265.71 462.93h62.77v12.55h-62.77zM851.45 475.48h12.55v12.55h-12.55zM951.88 475.48h25.11v12.55h-25.11zM989.54 475.48h12.55v12.55h-12.55zM1077.41 475.48h12.55v12.55h-12.55zM1278.27 475.48h12.55v12.55h-12.55zM1303.37 475.48h12.55v12.55h-12.55zM1328.48 475.48h12.55v12.55h-12.55zM1353.59 475.48h12.55v12.55h-12.55zM851.45 488.03h25.11v12.55h-25.11zM964.43 488.03h37.66v12.55h-37.66zM1077.41 488.03h12.55v12.55h-12.55zM1152.73 488.03h12.55v12.55h-12.55zM1265.71 488.03h12.55v12.55h-12.55zM1328.48 488.03h12.55v12.55h-12.55zM1366.14 488.03h12.55v12.55h-12.55zM1391.25 488.03h12.55v12.55h-12.55zM864.01 500.58h12.55v12.55h-12.55zM964.43 500.58h12.55v12.55h-12.55zM1077.41 500.58h12.55v12.55h-12.55zM1127.63 500.58h12.55v12.55h-12.55zM1328.48 500.58h12.55v12.55h-12.55zM1366.14 500.58h37.66v12.55h-37.66zM1077.41 513.13h12.55v12.55h-12.55zM1102.52 513.13h25.11v12.55h-25.11zM1265.71 513.13h25.11v12.55h-25.11zM1315.93 513.13h25.11v12.55h-25.11zM1366.14 513.13h37.66v12.55h-37.66zM1115.07 525.68h12.55v12.55h-12.55zM1315.93 525.68h37.66v12.55h-37.66zM1366.14 525.68h37.66v12.55h-37.66zM1115.07 538.24h12.55v12.55h-12.55zM1265.71 538.24h12.55v12.55h-12.55zM1315.93 538.24h37.66v12.55h-37.66zM1378.69 538.24h25.11v12.55h-25.11zM1115.07 550.79h12.55v12.55h-12.55zM1265.71 550.79h12.55v12.55h-12.55zM1315.93 550.79h12.55v12.55h-12.55zM1341.03 550.79h37.66v12.55h-37.66zM1115.07 563.34h62.77v12.55h-62.77zM1278.27 563.34h50.21v12.55h-50.21zM1341.03 563.34h12.55v12.55h-12.55zM1089.97 575.89h12.55v12.55h-12.55zM1165.29 575.89h12.55v12.55h-12.55zM1215.5 575.89h12.55v12.55h-12.55zM1240.61 575.89h50.21v12.55h-50.21zM1328.48 575.89h12.55v12.55h-12.55zM1077.41 588.44h12.55v12.55h-12.55zM1102.52 588.44h37.66v12.55h-37.66zM1177.84 588.44h100.43v12.55h-100.43zM1102.52 600.99h62.77v12.55h-62.77zM1177.84 600.99h12.55v12.55h-12.55zM1228.05 600.99h12.55v12.55h-12.55zM1253.16 600.99h12.55v12.55h-12.55zM1089.97 613.54h37.66v12.55h-37.66zM1152.73 613.54h37.66v12.55h-37.66zM1253.16 613.54h25.11v12.55h-25.11zM1102.52 626.09h25.11v12.55h-25.11zM1140.18 626.09h12.55v12.55h-12.55zM1190.39 626.09h12.55v12.55h-12.55zM1039.75 638.64h12.55v12.55h-12.55zM1077.41 638.64h50.21v12.55h-50.21zM1177.84 638.64h12.55v12.55h-12.55zM1253.16 638.64h25.11v12.55h-25.11zM1014.65 651.2h12.55v12.55h-12.55zM1077.41 651.2h125.53v12.55h-125.53zM1215.5 651.2h25.11v12.55h-25.11zM1253.16 651.2h12.55v12.55h-12.55zM1014.65 663.75h37.66v12.55h-37.66zM1064.86 663.75h62.77v12.55h-62.77zM1165.29 663.75h25.11v12.55h-25.11zM1215.5 663.75h50.21v12.55h-50.21zM1014.65 676.3h37.66v12.55h-37.66zM1077.41 676.3h75.32v12.55h-75.32zM1177.84 676.3h50.21v12.55h-50.21zM1240.61 676.3h12.55v12.55h-12.55zM1014.65 688.85h75.32v12.55h-75.32zM1102.52 688.85h12.55v12.55h-12.55zM1152.73 688.85h12.55v12.55h-12.55zM1202.95 688.85h12.55v12.55h-12.55zM1228.05 688.85h12.55v12.55h-12.55z"/>
<path fill="#ffe2b2" d="M1115.07 224.46h25.11v12.55h-25.11zM876.56 237.01h25.11v12.55h-25.11zM1115.07 237.01h37.66v12.55h-37.66zM876.56 249.56h25.11v12.55h-25.11zM1102.52 249.56h12.55v12.55h-12.55zM1140.18 249.56h25.11v12.55h-25.11zM1102.52 262.11h12.55v12.55h-12.55zM1127.63 262.11h12.55v12.55h-12.55zM851.45 274.66h12.55v12.55h-12.55zM1102.52 274.66h12.55v12.55h-12.55zM1165.29 274.66h12.55v12.55h-12.55zM1102.52 287.21h12.55v12.55h-12.55zM1165.29 287.21h12.55v12.55h-12.55zM1077.41 299.76h12.55v12.55h-12.55zM1102.52 299.76h12.55v12.55h-12.55zM1027.2 312.32h25.11v12.55h-25.11zM1077.41 312.32h25.11v12.55h-25.11zM1190.39 312.32h12.55v12.55h-12.55zM1027.2 324.87h25.11v12.55h-25.11zM1077.41 324.87h12.55v12.55h-12.55zM1102.52 324.87h12.55v12.55h-12.55zM1190.39 324.87h12.55v12.55h-12.55zM951.88 337.42h50.21v12.55h-50.21zM1027.2 337.42h25.11v12.55h-25.11zM1064.86 337.42h37.66v12.55h-37.66zM1115.07 337.42h12.55v12.55h-12.55zM1177.84 337.42h25.11v12.55h-25.11zM951.88 349.97h12.55v12.55h-12.55zM989.54 349.97h12.55v12.55h-12.55zM1039.75 349.97h25.11v12.55h-25.11zM1152.73 349.97h37.66v12.55h-37.66zM964.43 362.52h12.55v12.55h-12.55zM989.54 362.52h37.66v12.55h-37.66zM1052.31 362.52h25.11v12.55h-25.11zM1140.18 362.52h12.55v12.55h-12.55zM964.43 375.07h12.55v12.55h-12.55zM989.54 375.07h37.66v12.55h-37.66zM1039.75 375.07h50.21v12.55h-50.21zM1140.18 375.07h12.55v12.55h-12.55zM1215.5 375.07h25.11v12.55h-25.11zM1265.71 375.07h25.11v12.55h-25.11zM976.99 387.62h87.87v12.55h-87.87zM1089.97 387.62h25.11v12.55h-25.11zM1127.63 387.62h25.11v12.55h-25.11zM1202.95 387.62h37.66v12.55h-37.66zM1253.16 387.62h25.11v12.55h-25.11zM1290.82 387.62h12.55v12.55h-12.55zM989.54 400.17h87.87v12.55h-87.87zM1102.52 400.17h25.11v12.55h-25.11zM1140.18 400.17h12.55v12.55h-12.55zM1202.95 400.17h37.66v12.55h-37.66zM1253.16 400.17h12.55v12.55h-12.55zM1303.37 400.17h25.11v12.55h-25.11zM1064.86 412.72h62.77v12.55h-62.77zM1140.18 412.72h12.55v12.55h-12.55zM1165.29 412.72h12.55v12.55h-12.55zM1202.95 412.72h37.66v12.55h-37.66zM1278.27 412.72h12.55v12.55h-12.55zM1303.37 412.72h25.11v12.55h-25.11zM1039.75 425.28h112.98v12.55h-112.98zM1240.61 425.28h12.55v12.55h-12.55zM1303.37 425.28h12.55v12.55h-12.55zM1052.31 437.83h87.87v12.55h-87.87zM1077.41 450.38h37.66v12.55h-37.66zM1140.18 450.38h12.55v12.55h-12.55zM1165.29 450.38h12.55v12.55h-12.55zM1240.61 450.38h25.11v12.55h-25.11zM1127.63 462.93h12.55v12.55h-12.55zM1177.84 462.93h12.55v12.55h-12.55zM1240.61 462.93h25.11v12.55h-25.11zM976.99 475.48h12.55v12.55h-12.55zM1089.97 475.48h87.87v12.55h-87.87zM1240.61 475.48h37.66v12.55h-37.66zM1290.82 475.48h12.55v12.55h-12.55zM1315.93 475.48h12.55v12.55h-12.55zM1089.97 488.03h62.77v12.55h-62.77zM1165.29 488.03h12.55v12.55h-12.55zM1240.61 488.03h25.11v12.55h-25.11zM1278.27 488.03h50.21v12.55h-50.21zM1089.97 500.58h37.66v12.55h-37.66zM1140.18 500.58h25.11v12.55h-25.11zM1253.16 500.58h75.32v12.55h-75.32zM1089.97 513.13h12.55v12.55h-12.55zM1127.63 513.13h37.66v12.55h-37.66zM1253.16 513.13h12.55v12.55h-12.55zM1303.37 513.13h12.55v12.55h-12.55zM1127.63 525.68h25.11v12.55h-25.11zM1253.16 525.68h62.77v12.55h-62.77zM1127.63 538.24h12.55v12.55h-12.55zM1240.61 538.24h25.11v12.55h-25.11zM1278.27 538.24h37.66v12.55h-37.66zM1127.63 550.79h50.21v12.55h-50.21zM1253.16 550.79h12.55v12.55h-12.55zM1278.27 550.79h37.66v12.55h-37.66zM1328.48 550.79h12.55v12.55h-12.55zM1253.16 563.34h25.11v12.55h-25.11zM1177.84 575.89h12.55v12.55h-12.55zM1202.95 575.89h12.55v12.55h-12.55zM1228.05 575.89h12.55v12.55h-12.55zM1190.39 600.99h37.66v12.55h-37.66zM1240.61 600.99h12.55v12.55h-12.55zM1127.63 613.54h25.11v12.55h-25.11zM1190.39 613.54h25.11v12.55h-25.11zM1228.05 613.54h25.11v12.55h-25.11zM1127.63 626.09h12.55v12.55h-12.55zM1152.73 626.09h37.66v12.55h-37.66zM1202.95 626.09h62.77v12.55h-62.77zM1127.63 638.64h50.21v12.55h-50.21zM1190.39 638.64h25.11v12.55h-25.11zM1240.61 638.64h12.55v12.55h-12.55zM1202.95 651.2h12.55v12.55h-12.55zM1240.61 651.2h12.55v12.55h-12.55zM1127.63 663.75h37.66v12.55h-37.66zM1190.39 663.75h25.11v12.55h-25.11zM1089.97 688.85h12.55v12.55h-12.55zM1115.07 688.85h37.66v12.55h-37.66zM1165.29 688.85h37.66v12.55h-37.66zM1215.5 688.85h12.55v12.55h-12.55z"/>
<path fill="#f4a460" d="M1115.07 249.56h25.11v12.55h-25.11zM1140.18 262.11h25.11v12.55h-25.11zM1115.07 274.66h12.55v12.55h-12.55zM1152.73 287.21h12.55v12.55h-12.55zM1165.29 299.76h12.55v12.55h-12.55zM1102.52 312.32h25.11v12.55h-25.11zM1177.84 312.32h12.55v12.55h-12.55zM1089.97 324.87h12.55v12.55h-12.55zM1102.52 337.42h12.55v12.55h-12.55zM1152.73 337.42h25.11v12.55h-25.11zM964.43 349.97h25.11v12.55h-25.11zM1064.86 349.97h25.11v12.55h-25.11zM1115.07 349.97h12.55v12.55h-12.55zM1140.18 349.97h12.55v12.55h-12.55zM976.99 362.52h12.55v12.55h-12.55zM1039.75 362.52h12.55v12.55h-12.55zM1077.41 362.52h37.66v12.55h-37.66zM976.99 375.07h12.55v12.55h-12.55zM1027.2 375.07h12.55v12.55h-12.55zM1089.97 375.07h50.21v12.55h-50.21zM1278.27 387.62h12.55v12.55h-12.55zM1127.63 400.17h12.55v12.55h-12.55zM1265.71 400.17h12.55v12.55h-12.55zM1290.82 400.17h12.55v12.55h-12.55zM1127.63 412.72h12.55v12.55h-12.55zM1152.73 412.72h12.55v12.55h-12.55zM1265.71 412.72h12.55v12.55h-12.55zM1152.73 425.28h12.55v12.55h-12.55zM1215.5 425.28h25.11v12.55h-25.11zM1253.16 425.28h12.55v12.55h-12.55zM1290.82 425.28h12.55v12.55h-12.55zM1140.18 437.83h25.11v12.55h-25.11zM1190.39 437.83h37.66v12.55h-37.66zM1240.61 437.83h12.55v12.55h-12.55zM1152.73 450.38h12.55v12.55h-12.55zM1177.84 450.38h12.55v12.55h-12.55zM1228.05 450.38h12.55v12.55h-12.55zM1190.39 462.93h12.55v12.55h-12.55zM1177.84 475.48h12.55v12.55h-12.55zM1228.05 475.48h12.55v12.55h-12.55zM1177.84 488.03h12.55v12.55h-12.55zM1228.05 488.03h12.55v12.55h-12.55zM1165.29 500.58h25.11v12.55h-25.11zM1202.95 500.58h12.55v12.55h-12.55zM1290.82 513.13h12.55v12.55h-12.55zM1152.73 525.68h25.11v12.55h-25.11zM1240.61 525.68h12.55v12.55h-12.55zM1140.18 538.24h37.66v12.55h-37.66zM1177.84 550.79h12.55v12.55h-12.55zM1215.5 550.79h12.55v12.55h-12.55zM1240.61 550.79h12.55v12.55h-12.55zM1202.95 563.34h50.21v12.55h-50.21zM1190.39 575.89h12.55v12.55h-12.55zM1215.5 613.54h12.55v12.55h-12.55zM1215.5 638.64h25.11v12.55h-25.11z"/>
<path fill="#ee7600" d="M1127.63 274.66h37.66v12.55h-37.66zM1115.07 287.21h37.66v12.55h-37.66zM1115.07 299.76h12.55v12.55h-12.55zM1140.18 299.76h25.11v12.55h-25.11zM1127.63 312.32h25.11v12.55h-25.11zM1165.29 312.32h12.55v12.55h-12.55zM1115.07 324.87h25.11v12.55h-25.11zM1165.29 324.87h25.11v12.55h-25.11zM1127.63 337.42h25.11v12.55h-25.11zM1089.97 349.97h25.11v12.55h-25.11zM1127.63 349.97h12.55v12.55h-12.55zM1115.07 362.52h25.11v12.55h-25.11zM1115.07 387.62h12.55v12.55h-12.55zM1278.27 400.17h12.55v12.55h-12.55zM1177.84 412.72h12.55v12.55h-12.55zM1240.61 412.72h25.11v12.55h-25.11zM1290.82 412.72h12.55v12.55h-12.55zM1165.29 425.28h12.55v12.55h-12.55zM1190.39 425.28h12.55v12.55h-12.55zM1165.29 437.83h12.55v12.55h-12.55zM1228.05 437.83h12.55v12.55h-12.55zM1190.39 450.38h12.55v12.55h-12.55zM1215.5 450.38h12.55v12.55h-12.55zM1202.95 462.93h12.55v12.55h-12.55zM1228.05 462.93h12.55v12.55h-12.55zM1202.95 475.48h25.11v12.55h-25.11zM1190.39 488.03h12.55v12.55h-12.55zM1215.5 500.58h12.55v12.55h-12.55zM1240.61 500.58h12.55v12.55h-12.55zM1165.29 513.13h12.55v12.55h-12.55zM1202.95 513.13h12.55v12.55h-12.55zM1240.61 513.13h12.55v12.55h-12.55zM1177.84 525.68h12.55v12.55h-12.55zM1202.95 525.68h37.66v12.55h-37.66zM1177.84 538.24h12.55v12.55h-12.55zM1190.39 550.79h25.11v12.55h-25.11zM1228.05 550.79h12.55v12.55h-12.55zM1177.84 563.34h25.11v12.55h-25.11z"/>
<path fill="#ee0000" d="M1127.63 299.76h12.55v12.55h-12.55zM1215.5 513.13h12.55v12.55h-12.55zM1215.5 538.24h12.55v12.55h-12.55z"/>
<path fill="#dd3311" d="M1152.73 312.32h12.55v12.55h-12.55zM1140.18 324.87h25.11v12.55h-25.11zM1177.84 425.28h12.55v12.55h-12.55zM1202.95 425.28h12.55v12.55h-12.55zM1177.84 437.83h12.55v12.55h-12.55zM1202.95 450.38h12.55v12.55h-12.55zM1215.5 462.93h12.55v12.55h-12.55zM1190.39 475.48h12.55v12.55h-12.55zM1202.95 488.03h25.11v12.55h-25.11zM1190.39 500.58h12.55v12.55h-12.55zM1228.05 500.58h12.55v12.55h-12.55zM1177.84 513.13h25.11v12.55h-25.11zM1228.05 513.13h12.55v12.55h-12.55zM1190.39 525.68h12.55v12.55h-12.55zM1190.39 538.24h25.11v12.55h-25.11zM1228.05 538.24h12.55v12.55h-12.55z"/>
<path fill="#e3eef9" d="M1366.14 663.75h12.55v12.55h-12.55zM1315.93 676.3h12.55v12.55h-12.55zM1253.16 688.85h12.55v12.55h-12.55zM1278.27 688.85h12.55v12.55h-12.55z"/>
<path fill="none" stroke="#000" stroke-width="1" stroke-opacity="0.7" shape-rendering="crispEdges" d="M851.45 136.6V701.4M838.9 149.15H1403.8M864.01 136.6V701.4M838.9 161.7H1403.8M876.56 136.6V701.4M838.9 174.25H1403.8M889.11 136.6V701.4M838.9 186.8H1403.8M901.67 136.6V701.4M838.9 199.36H1403.8M914.22 136.6V701.4M838.9 211.91H1403.8M926.77 136.6V701.4M838.9 224.46H1403.8M939.33 136.6V701.4M838.9 237.01H1403.8M951.88 136.6V701.4M838.9 249.56H1403.8M964.43 136.6V701.4M838.9 262.11H1403.8M976.99 136.6V701.4M838.9 274.66H1403.8M989.54 136.6V701.4M838.9 287.21H1403.8M1002.09 136.6V701.4M838.9 299.76H1403.8M1014.65 136.6V701.4M838.9 312.32H1403.8M1027.2 136.6V701.4M838.9 324.87H1403.8M1039.75 136.6V701.4M838.9 337.42H1403.8M1052.31 136.6V701.4M838.9 349.97H1403.8M1064.86 136.6V701.4M838.9 362.52H1403.8M1077.41 136.6V701.4M838.9 375.07H1403.8M1089.97 136.6V701.4M838.9 387.62H1403.8M1102.52 136.6V701.4M838.9 400.17H1403.8M1115.07 136.6V701.4M838.9 412.72H1403.8M1127.63 136.6V701.4M838.9 425.28H1403.8M1140.18 136.6V701.4M838.9 437.83H1403.8M1152.73 136.6V701.4M838.9 450.38H1403.8M1165.29 136.6V701.4M838.9 462.93H1403.8M1177.84 136.6V701.4M838.9 475.48H1403.8M1190.39 136.6V701.4M838.9 488.03H1403.8M1202.95 136.6V701.4M838.9 500.58H1403.8M1215.5 136.6V701.4M838.9 513.13H1403.8M1228.05 136.6V701.4M838.9 525.68H1403.8M1240.61 136.6V701.4M838.9 538.24H1403.8M1253.16 136.6V701.4M838.9 550.79H1403.8M1265.71 136.6V701.4M838.9 563.34H1403.8M1278.27 136.6V701.4M838.9 575.89H1403.8M1290.82 136.6V701.4M838.9 588.44H1403.8M1303.37 136.6V701.4M838.9 600.99H1403.8M1315.93 136.6V701.4M838.9 613.54H1403.8M1328.48 136.6V701.4M838.9 626.09H1403.8M1341.03 136.6V701.4M838.9 638.64H1403.8M1353.59 136.6V701.4M838.9 651.2H1403.8M1366.14 136.6V701.4M838.9 663.75H1403.8M1378.69 136.6V701.4M838.9 676.3H1403.8M1391.25 136.6V701.4M838.9 688.85H1403.8"/>
<rect x="838.9" y="136.6" width="564.9" height="564.8" fill="none" stroke="#000" stroke-width="2.1"/>
<path stroke="#000" stroke-width="2.1" fill="none" d="M824.3 701.4H838.9M838.9 701.4V716.1M824.3 513.13H838.9M1027.2 701.4V716.1M824.3 324.87H838.9M1215.5 701.4V716.1M824.3 136.6H838.9M1403.8 701.4V716.1"/>
<circle cx="1118.21" cy="168.42" r="7.4" fill="none" stroke="#000" stroke-width="2"/>
<circle cx="989.41" cy="317.08" r="7.4" fill="none" stroke="#000" stroke-width="2"/>
<circle cx="1266.47" cy="296.81" r="7.4" fill="none" stroke="#000" stroke-width="2"/>
<circle cx="1235.84" cy="381.97" r="7.4" fill="none" stroke="#000" stroke-width="2"/>
<circle cx="1115.39" cy="458.85" r="7.4" fill="none" stroke="#000" stroke-width="2"/>
<circle cx="1212.99" cy="622.2" r="7.4" fill="none" stroke="#000" stroke-width="2"/>
<text x="776.28" y="708.73" font-size="21.3" letter-spacing="1.8" fill="#303030">0.</text>
<text x="846.08" y="744.33" font-size="21.3" letter-spacing="1.8" fill="#303030">0.</text>
<text x="762.63" y="520.47" font-size="21.3" letter-spacing="1.8" fill="#303030">30.</text>
<text x="1020.73" y="744.33" font-size="21.3" letter-spacing="1.8" fill="#303030">30.</text>
<text x="762.63" y="332.2" font-size="21.3" letter-spacing="1.8" fill="#303030">60.</text>
<text x="1209.03" y="744.33" font-size="21.3" letter-spacing="1.8" fill="#303030">60.</text>
<text x="762.63" y="143.93" font-size="21.3" letter-spacing="1.8" fill="#303030">90.</text>
<text x="1397.33" y="744.33" font-size="21.3" letter-spacing="1.8" fill="#303030">90.</text>
<text x="956.4 989.31 1021.26 1056.48 1093.36 1125.61 1157.46 1217.34" y="105.3" font-size="48.5" fill="none" stroke="#707070" stroke-width="1.05">150−250m</text>
<rect x="159.9" y="851" width="565" height="565" fill="#f0ffff"/>
<rect x="159.9" y="851" width="12.56" height="565" fill="#fff"/>
<path fill="#fdf5e6" d="M185.01 851h12.56v12.56h-12.56zM172.46 876.11h37.67v12.56h-37.67zM172.46 901.22h37.67v12.56h-37.67zM172.46 926.33h25.11v12.56h-25.11zM210.12 926.33h12.56v12.56h-12.56zM511.46 926.33h12.56v12.56h-12.56zM172.46 938.89h50.22v12.56h-50.22zM498.9 938.89h12.56v12.56h-12.56zM524.01 938.89h37.67v12.56h-37.67zM172.46 951.44h37.67v12.56h-37.67zM486.34 951.44h25.11v12.56h-25.11zM536.57 951.44h25.11v12.56h-25.11zM486.34 964h25.11v12.56h-25.11zM524.01 964h25.11v12.56h-25.11zM348.23 976.56h25.11v12.56h-25.11zM498.9 976.56h12.56v12.56h-12.56zM524.01 976.56h12.56v12.56h-12.56zM335.68 989.11h75.33v12.56h-75.33zM511.46 989.11h12.56v12.56h-12.56zM197.57 1001.67h12.56v12.56h-12.56zM285.46 1001.67h37.67v12.56h-37.67zM335.68 1001.67h87.89v12.56h-87.89zM172.46 1014.22h150.67v12.56h-150.67zM348.23 1014.22h75.33v12.56h-75.33zM185.01 1026.78h150.67v12.56h-150.67zM360.79 1026.78h62.78v12.56h-62.78zM172.46 1039.33h12.56v12.56h-12.56zM197.57 1039.33h100.44v12.56h-100.44zM310.57 1039.33h25.11v12.56h-25.11zM360.79 1039.33h75.33v12.56h-75.33zM185.01 1051.89h238.56v12.56h-238.56zM473.79 1051.89h12.56v12.56h-12.56zM185.01 1064.44h150.67v12.56h-150.67zM385.9 1064.44h12.56v12.56h-12.56zM411.01 1064.44h12.56v12.56h-12.56zM486.34 1064.44h12.56v12.56h-12.56zM511.46 1064.44h50.22v12.56h-50.22zM172.46 1077h12.56v12.56h-12.56zM210.12 1077h62.78v12.56h-62.78zM298.01 1077h25.11v12.56h-25.11zM373.34 1077h50.22v12.56h-50.22zM473.79 1077h25.11v12.56h-25.11zM511.46 1077h62.78v12.56h-62.78zM197.57 1089.56h75.33v12.56h-75.33zM285.46 1089.56h12.56v12.56h-12.56zM360.79 1089.56h12.56v12.56h-12.56zM398.46 1089.56h37.67v12.56h-37.67zM461.23 1089.56h12.56v12.56h-12.56zM511.46 1089.56h25.11v12.56h-25.11zM561.68 1089.56h12.56v12.56h-12.56zM185.01 1102.11h12.56v12.56h-12.56zM210.12 1102.11h75.33v12.56h-75.33zM398.46 1102.11h75.33v12.56h-75.33zM511.46 1102.11h12.56v12.56h-12.56zM561.68 1102.11h12.56v12.56h-12.56zM172.46 1114.67h12.56v12.56h-12.56zM197.57 1114.67h12.56v12.56h-12.56zM222.68 1114.67h50.22v12.56h-50.22zM448.68 1114.67h75.33v12.56h-75.33zM561.68 1114.67h12.56v12.56h-12.56zM172.46 1127.22h12.56v12.56h-12.56zM197.57 1127.22h12.56v12.56h-12.56zM235.23 1127.22h87.89v12.56h-87.89zM536.57 1127.22h50.22v12.56h-50.22zM172.46 1139.78h37.67v12.56h-37.67zM222.68 1139.78h100.44v12.56h-100.44zM348.23 1139.78h25.11v12.56h-25.11zM511.46 1139.78h12.56v12.56h-12.56zM172.46 1152.33h12.56v12.56h-12.56zM197.57 1152.33h12.56v12.56h-12.56zM222.68 1152.33h125.56v12.56h-125.56zM511.46 1152.33h12.56v12.56h-12.56zM172.46 1164.89h50.22v12.56h-50.22zM247.79 1164.89h37.67v12.56h-37.67zM310.57 1164.89h37.67v12.56h-37.67zM385.9 1164.89h12.56v12.56h-12.56zM423.57 1164.89h12.56v12.56h-12.56zM461.23 1164.89h12.56v12.56h-12.56zM511.46 1164.89h12.56v12.56h-12.56zM172.46 1177.44h37.67v12.56h-37.67zM247.79 1177.44h37.67v12.56h-37.67zM310.57 1177.44h12.56v12.56h-12.56zM335.68 1177.44h25.11v12.56h-25.11zM411.01 1177.44h12.56v12.56h-12.56zM461.23 1177.44h12.56v12.56h-12.56zM498.9 1177.44h12.56v12.56h-12.56zM185.01 1190h25.11v12.56h-25.11zM260.34 1190h37.67v12.56h-37.67zM348.23 1190h12.56v12.56h-12.56zM373.34 1190h25.11v12.56h-25.11zM498.9 1190h12.56v12.56h-12.56zM172.46 1202.56h25.11v12.56h-25.11zM260.34 1202.56h12.56v12.56h-12.56zM285.46 1202.56h25.11v12.56h-25.11zM348.23 1202.56h12.56v12.56h-12.56zM385.9 1202.56h12.56v12.56h-12.56zM498.9 1202.56h12.56v12.56h-12.56zM272.9 1215.11h25.11v12.56h-25.11zM348.23 1215.11h12.56v12.56h-12.56zM373.34 1215.11h12.56v12.56h-12.56zM498.9 1215.11h12.56v12.56h-12.56zM524.01 1215.11h25.11v12.56h-25.11zM599.34 1215.11h62.78v12.56h-62.78zM385.9 1227.67h25.11v12.56h-25.11zM549.12 1227.67h12.56v12.56h-12.56zM586.79 1227.67h25.11v12.56h-25.11zM624.46 1227.67h37.67v12.56h-37.67zM687.23 1227.67h37.67v12.56h-37.67zM411.01 1240.22h12.56v12.56h-12.56zM549.12 1240.22h12.56v12.56h-12.56zM586.79 1240.22h12.56v12.56h-12.56zM637.01 1240.22h37.67v12.56h-37.67zM687.23 1240.22h37.67v12.56h-37.67zM411.01 1252.78h12.56v12.56h-12.56zM549.12 1252.78h12.56v12.56h-12.56zM586.79 1252.78h12.56v12.56h-12.56zM624.46 1252.78h37.67v12.56h-37.67zM699.79 1252.78h25.11v12.56h-25.11zM423.57 1265.33h12.56v12.56h-12.56zM549.12 1265.33h12.56v12.56h-12.56zM586.79 1265.33h12.56v12.56h-12.56zM624.46 1265.33h50.22v12.56h-50.22zM411.01 1277.89h50.22v12.56h-50.22zM561.68 1277.89h25.11v12.56h-25.11zM599.34 1277.89h75.33v12.56h-75.33zM411.01 1290.44h12.56v12.56h-12.56zM436.12 1290.44h25.11v12.56h-25.11zM561.68 1290.44h50.22v12.56h-50.22zM637.01 1290.44h25.11v12.56h-25.11zM398.46 1303h12.56v12.56h-12.56zM423.57 1303h37.67v12.56h-37.67zM561.68 1303h87.89v12.56h-87.89zM423.57 1315.56h37.67v12.56h-37.67zM486.34 1315.56h25.11v12.56h-25.11zM561.68 1315.56h25.11v12.56h-25.11zM599.34 1315.56h12.56v12.56h-12.56zM398.46 1328.11h37.67v12.56h-37.67zM498.9 1328.11h12.56v12.56h-12.56zM574.23 1328.11h12.56v12.56h-12.56zM423.57 1340.67h25.11v12.56h-25.11zM461.23 1340.67h12.56v12.56h-12.56zM574.23 1340.67h12.56v12.56h-12.56zM360.79 1353.22h12.56v12.56h-12.56zM398.46 1353.22h37.67v12.56h-37.67zM561.68 1353.22h25.11v12.56h-25.11zM335.68 1365.78h25.11v12.56h-25.11zM398.46 1365.78h37.67v12.56h-37.67zM461.23 1365.78h50.22v12.56h-50.22zM574.23 1365.78h12.56v12.56h-12.56zM335.68 1378.33h37.67v12.56h-37.67zM385.9 1378.33h50.22v12.56h-50.22zM498.9 1378.33h12.56v12.56h-12.56zM536.57 1378.33h37.67v12.56h-37.67zM335.68 1390.89h37.67v12.56h-37.67zM398.46 1390.89h37.67v12.56h-37.67zM448.68 1390.89h87.89v12.56h-87.89zM335.68 1403.44h87.89v12.56h-87.89zM473.79 1403.44h12.56v12.56h-12.56zM498.9 1403.44h50.22v12.56h-50.22z"/>
<path fill="#ffe2b2" d="M511.46 951.44h12.56v12.56h-12.56zM511.46 964h12.56v12.56h-12.56zM298.01 1039.33h12.56v12.56h-12.56zM436.12 1039.33h37.67v12.56h-37.67zM423.57 1051.89h25.11v12.56h-25.11zM335.68 1064.44h37.67v12.56h-37.67zM473.79 1064.44h12.56v12.56h-12.56zM272.9 1077h25.11v12.56h-25.11zM323.12 1077h50.22v12.56h-50.22zM423.57 1077h12.56v12.56h-12.56zM461.23 1077h12.56v12.56h-12.56zM272.9 1089.56h12.56v12.56h-12.56zM298.01 1089.56h62.78v12.56h-62.78zM373.34 1089.56h25.11v12.56h-25.11zM436.12 1089.56h25.11v12.56h-25.11zM536.57 1089.56h25.11v12.56h-25.11zM285.46 1102.11h113v12.56h-113zM524.01 1102.11h37.67v12.56h-37.67zM272.9 1114.67h75.33v12.56h-75.33zM360.79 1114.67h87.89v12.56h-87.89zM524.01 1114.67h37.67v12.56h-37.67zM323.12 1127.22h150.67v12.56h-150.67zM486.34 1127.22h25.11v12.56h-25.11zM323.12 1139.78h25.11v12.56h-25.11zM373.34 1139.78h100.44v12.56h-100.44zM348.23 1152.33h125.56v12.56h-125.56zM285.46 1164.89h25.11v12.56h-25.11zM348.23 1164.89h37.67v12.56h-37.67zM398.46 1164.89h25.11v12.56h-25.11zM448.68 1164.89h12.56v12.56h-12.56zM473.79 1164.89h37.67v12.56h-37.67zM360.79 1177.44h50.22v12.56h-50.22zM423.57 1177.44h37.67v12.56h-37.67zM473.79 1177.44h25.11v12.56h-25.11zM298.01 1190h12.56v12.56h-12.56zM360.79 1190h12.56v12.56h-12.56zM398.46 1190h100.44v12.56h-100.44zM360.79 1202.56h25.11v12.56h-25.11zM398.46 1202.56h100.44v12.56h-100.44zM385.9 1215.11h113v12.56h-113zM511.46 1215.11h12.56v12.56h-12.56zM411.01 1227.67h25.11v12.56h-25.11zM448.68 1227.67h12.56v12.56h-12.56zM536.57 1227.67h12.56v12.56h-12.56zM611.9 1227.67h12.56v12.56h-12.56zM423.57 1240.22h12.56v12.56h-12.56zM448.68 1240.22h12.56v12.56h-12.56zM536.57 1240.22h12.56v12.56h-12.56zM599.34 1240.22h37.67v12.56h-37.67zM423.57 1252.78h12.56v12.56h-12.56zM448.68 1252.78h12.56v12.56h-12.56zM599.34 1252.78h25.11v12.56h-25.11zM436.12 1265.33h25.11v12.56h-25.11zM473.79 1265.33h12.56v12.56h-12.56zM599.34 1265.33h25.11v12.56h-25.11zM461.23 1277.89h12.56v12.56h-12.56zM549.12 1277.89h12.56v12.56h-12.56zM461.23 1290.44h12.56v12.56h-12.56zM498.9 1290.44h12.56v12.56h-12.56zM549.12 1290.44h12.56v12.56h-12.56zM611.9 1290.44h25.11v12.56h-25.11zM461.23 1303h62.78v12.56h-62.78zM549.12 1303h12.56v12.56h-12.56zM461.23 1315.56h25.11v12.56h-25.11zM511.46 1315.56h12.56v12.56h-12.56zM549.12 1315.56h12.56v12.56h-12.56zM436.12 1328.11h62.78v12.56h-62.78zM511.46 1328.11h25.11v12.56h-25.11zM549.12 1328.11h25.11v12.56h-25.11zM448.68 1340.67h12.56v12.56h-12.56zM473.79 1340.67h100.44v12.56h-100.44zM436.12 1353.22h62.78v12.56h-62.78zM511.46 1353.22h37.67v12.56h-37.67zM436.12 1365.78h25.11v12.56h-25.11zM511.46 1365.78h62.78v12.56h-62.78zM436.12 1378.33h62.78v12.56h-62.78zM511.46 1378.33h25.11v12.56h-25.11zM436.12 1390.89h12.56v12.56h-12.56zM423.57 1403.44h50.22v12.56h-50.22zM486.34 1403.44h12.56v12.56h-12.56z"/>
<path fill="#ee7600" d="M448.68 1051.89h12.56v12.56h-12.56zM448.68 1064.44h12.56v12.56h-12.56zM436.12 1077h25.11v12.56h-25.11zM486.34 1139.78h12.56v12.56h-12.56zM486.34 1152.33h12.56v12.56h-12.56zM511.46 1227.67h12.56v12.56h-12.56zM498.9 1240.22h12.56v12.56h-12.56zM498.9 1252.78h12.56v12.56h-12.56zM486.34 1277.89h37.67v12.56h-37.67zM524.01 1303h12.56v12.56h-12.56z"/>
<path fill="#f4a460" d="M461.23 1051.89h12.56v12.56h-12.56zM423.57 1064.44h25.11v12.56h-25.11zM461.23 1064.44h12.56v12.56h-12.56zM348.23 1114.67h12.56v12.56h-12.56zM473.79 1127.22h12.56v12.56h-12.56zM473.79 1139.78h12.56v12.56h-12.56zM498.9 1139.78h12.56v12.56h-12.56zM473.79 1152.33h12.56v12.56h-12.56zM498.9 1152.33h12.56v12.56h-12.56zM436.12 1164.89h12.56v12.56h-12.56zM436.12 1227.67h12.56v12.56h-12.56zM461.23 1227.67h50.22v12.56h-50.22zM524.01 1227.67h12.56v12.56h-12.56zM436.12 1240.22h12.56v12.56h-12.56zM461.23 1240.22h37.67v12.56h-37.67zM436.12 1252.78h12.56v12.56h-12.56zM461.23 1252.78h37.67v12.56h-37.67zM536.57 1252.78h12.56v12.56h-12.56zM461.23 1265.33h12.56v12.56h-12.56zM486.34 1265.33h62.78v12.56h-62.78zM473.79 1277.89h12.56v12.56h-12.56zM524.01 1277.89h25.11v12.56h-25.11zM473.79 1290.44h25.11v12.56h-25.11zM511.46 1290.44h37.67v12.56h-37.67zM536.57 1303h12.56v12.56h-12.56zM524.01 1315.56h25.11v12.56h-25.11zM536.57 1328.11h12.56v12.56h-12.56zM498.9 1353.22h12.56v12.56h-12.56zM549.12 1353.22h12.56v12.56h-12.56z"/>
<path fill="#dd3311" d="M511.46 1240.22h25.11v12.56h-25.11zM511.46 1252.78h25.11v12.56h-25.11z"/>
<path fill="#e3eef9" d="M172.46 1353.22h25.11v12.56h-25.11zM185.01 1365.78h12.56v12.56h-12.56zM687.23 1378.33h12.56v12.56h-12.56zM599.34 1390.89h12.56v12.56h-12.56zM637.01 1390.89h25.11v12.56h-25.11zM574.23 1403.44h37.67v12.56h-37.67z"/>
<path fill="none" stroke="#000" stroke-width="1" stroke-opacity="0.7" shape-rendering="crispEdges" d="M172.46 851V1416M159.9 863.56H724.9M185.01 851V1416M159.9 876.11H724.9M197.57 851V1416M159.9 888.67H724.9M210.12 851V1416M159.9 901.22H724.9M222.68 851V1416M159.9 913.78H724.9M235.23 851V1416M159.9 926.33H724.9M247.79 851V1416M159.9 938.89H724.9M260.34 851V1416M159.9 951.44H724.9M272.9 851V1416M159.9 964H724.9M285.46 851V1416M159.9 976.56H724.9M298.01 851V1416M159.9 989.11H724.9M310.57 851V1416M159.9 1001.67H724.9M323.12 851V1416M159.9 1014.22H724.9M335.68 851V1416M159.9 1026.78H724.9M348.23 851V1416M159.9 1039.33H724.9M360.79 851V1416M159.9 1051.89H724.9M373.34 851V1416M159.9 1064.44H724.9M385.9 851V1416M159.9 1077H724.9M398.46 851V1416M159.9 1089.56H724.9M411.01 851V1416M159.9 1102.11H724.9M423.57 851V1416M159.9 1114.67H724.9M436.12 851V1416M159.9 1127.22H724.9M448.68 851V1416M159.9 1139.78H724.9M461.23 851V1416M159.9 1152.33H724.9M473.79 851V1416M159.9 1164.89H724.9M486.34 851V1416M159.9 1177.44H724.9M498.9 851V1416M159.9 1190H724.9M511.46 851V1416M159.9 1202.56H724.9M524.01 851V1416M159.9 1215.11H724.9M536.57 851V1416M159.9 1227.67H724.9M549.12 851V1416M159.9 1240.22H724.9M561.68 851V1416M159.9 1252.78H724.9M574.23 851V1416M159.9 1265.33H724.9M586.79 851V1416M159.9 1277.89H724.9M599.34 851V1416M159.9 1290.44H724.9M611.9 851V1416M159.9 1303H724.9M624.46 851V1416M159.9 1315.56H724.9M637.01 851V1416M159.9 1328.11H724.9M649.57 851V1416M159.9 1340.67H724.9M662.12 851V1416M159.9 1353.22H724.9M674.68 851V1416M159.9 1365.78H724.9M687.23 851V1416M159.9 1378.33H724.9M699.79 851V1416M159.9 1390.89H724.9M712.34 851V1416M159.9 1403.44H724.9"/>
<rect x="159.9" y="851" width="565" height="565" fill="none" stroke="#000" stroke-width="2.1"/>
<path stroke="#000" stroke-width="2.1" fill="none" d="M145.3 1416H159.9M159.9 1416V1430.7M145.3 1227.67H159.9M348.23 1416V1430.7M145.3 1039.33H159.9M536.57 1416V1430.7M145.3 851H159.9M724.9 1416V1430.7"/>
<circle cx="439.26" cy="882.83" r="7.4" fill="none" stroke="#000" stroke-width="2"/>
<circle cx="310.44" cy="1031.55" r="7.4" fill="none" stroke="#000" stroke-width="2"/>
<circle cx="587.54" cy="1011.27" r="7.4" fill="none" stroke="#000" stroke-width="2"/>
<circle cx="556.91" cy="1096.46" r="7.4" fill="none" stroke="#000" stroke-width="2"/>
<circle cx="436.44" cy="1173.36" r="7.4" fill="none" stroke="#000" stroke-width="2"/>
<circle cx="534.06" cy="1336.77" r="7.4" fill="none" stroke="#000" stroke-width="2"/>
<text x="97.28" y="1423.33" font-size="21.3" letter-spacing="1.8" fill="#303030">0.</text>
<text x="167.08" y="1458.93" font-size="21.3" letter-spacing="1.8" fill="#303030">0.</text>
<text x="83.63" y="1235" font-size="21.3" letter-spacing="1.8" fill="#303030">30.</text>
<text x="341.77" y="1458.93" font-size="21.3" letter-spacing="1.8" fill="#303030">30.</text>
<text x="83.63" y="1046.67" font-size="21.3" letter-spacing="1.8" fill="#303030">60.</text>
<text x="530.1" y="1458.93" font-size="21.3" letter-spacing="1.8" fill="#303030">60.</text>
<text x="83.63" y="858.33" font-size="21.3" letter-spacing="1.8" fill="#303030">90.</text>
<text x="718.43" y="1458.93" font-size="21.3" letter-spacing="1.8" fill="#303030">90.</text>
<text x="278.11 310.36 342.31 377.53 414.56 446.66 478.51 538.39" y="820.1" font-size="48.5" fill="none" stroke="#707070" stroke-width="1.05">250−350m</text>
<g transform="translate(29.3 1138.9) rotate(-90)"><text x="-172.94" y="0" font-size="33.4" letter-spacing="2.99" fill="none" stroke="#707070" stroke-width="1.05">Distance north (km)</text></g>
<rect x="839" y="851" width="564.8" height="564.8" fill="#f0ffff"/>
<rect x="839" y="851" width="12.55" height="564.8" fill="#fff"/>
<path fill="#fdf5e6" d="M851.55 851h25.1v12.55h-25.1zM851.55 876.1h37.65v12.55h-37.65zM864.1 888.65h12.55v12.55h-12.55zM851.55 901.2h37.65v12.55h-37.65zM1378.7 913.76h12.55v12.55h-12.55zM926.86 926.31h37.65v12.55h-37.65zM1366.15 926.31h12.55v12.55h-12.55zM926.86 938.86h50.2v12.55h-50.2zM889.2 951.41h12.55v12.55h-12.55zM914.31 951.41h75.31v12.55h-75.31zM1165.33 951.41h37.65v12.55h-37.65zM864.1 963.96h37.65v12.55h-37.65zM914.31 963.96h75.31v12.55h-75.31zM1027.27 963.96h75.31v12.55h-75.31zM1152.78 963.96h12.55v12.55h-12.55zM1177.88 963.96h25.1v12.55h-25.1zM1215.53 963.96h12.55v12.55h-12.55zM864.1 976.51h112.96v12.55h-112.96zM1027.27 976.51h62.76v12.55h-62.76zM1152.78 976.51h12.55v12.55h-12.55zM1177.88 976.51h37.65v12.55h-37.65zM851.55 989.06h12.55v12.55h-12.55zM876.65 989.06h225.92v12.55h-225.92zM1152.78 989.06h62.76v12.55h-62.76zM864.1 1001.61h50.2v12.55h-50.2zM926.86 1001.61h50.2v12.55h-50.2zM1027.27 1001.61h75.31v12.55h-75.31zM1165.33 1001.61h50.2v12.55h-50.2zM851.55 1014.16h87.86v12.55h-87.86zM951.96 1014.16h25.1v12.55h-25.1zM1052.37 1014.16h50.2v12.55h-50.2zM864.1 1026.72h138.06v12.55h-138.06zM1052.37 1026.72h12.55v12.55h-12.55zM1077.47 1026.72h25.1v12.55h-25.1zM851.55 1039.27h12.55v12.55h-12.55zM876.65 1039.27h100.41v12.55h-100.41zM989.61 1039.27h12.55v12.55h-12.55zM1039.82 1039.27h12.55v12.55h-12.55zM1064.92 1039.27h37.65v12.55h-37.65zM864.1 1051.82h138.06v12.55h-138.06zM1090.02 1051.82h12.55v12.55h-12.55zM864.1 1064.37h175.72v12.55h-175.72zM1090.02 1064.37h12.55v12.55h-12.55zM1152.78 1064.37h50.2v12.55h-50.2zM851.55 1076.92h12.55v12.55h-12.55zM889.2 1076.92h62.76v12.55h-62.76zM977.06 1076.92h25.1v12.55h-25.1zM1027.27 1076.92h12.55v12.55h-12.55zM1052.37 1076.92h62.76v12.55h-62.76zM1140.23 1076.92h12.55v12.55h-12.55zM876.65 1089.47h75.31v12.55h-75.31zM964.51 1089.47h25.1v12.55h-25.1zM1077.47 1089.47h12.55v12.55h-12.55zM1127.68 1089.47h25.1v12.55h-25.1zM864.1 1102.02h125.51v12.55h-125.51zM1140.23 1102.02h12.55v12.55h-12.55zM1202.98 1102.02h12.55v12.55h-12.55zM876.65 1114.57h100.41v12.55h-100.41zM1140.23 1114.57h12.55v12.55h-12.55zM1202.98 1114.57h12.55v12.55h-12.55zM876.65 1127.12h62.76v12.55h-62.76zM951.96 1127.12h25.1v12.55h-25.1zM1064.92 1127.12h12.55v12.55h-12.55zM1152.78 1127.12h25.1v12.55h-25.1zM1190.43 1127.12h12.55v12.55h-12.55zM851.55 1139.68h87.86v12.55h-87.86zM951.96 1139.68h25.1v12.55h-25.1zM1152.78 1139.68h12.55v12.55h-12.55zM851.55 1152.23h12.55v12.55h-12.55zM901.76 1152.23h87.86v12.55h-87.86zM1014.72 1152.23h12.55v12.55h-12.55zM1102.57 1152.23h12.55v12.55h-12.55zM1152.78 1152.23h25.1v12.55h-25.1zM1265.74 1152.23h12.55v12.55h-12.55zM851.55 1164.78h50.2v12.55h-50.2zM926.86 1164.78h37.65v12.55h-37.65zM989.61 1164.78h12.55v12.55h-12.55zM1014.72 1164.78h12.55v12.55h-12.55zM1102.57 1164.78h12.55v12.55h-12.55zM1165.33 1164.78h37.65v12.55h-37.65zM1240.64 1164.78h62.76v12.55h-62.76zM851.55 1177.33h50.2v12.55h-50.2zM926.86 1177.33h37.65v12.55h-37.65zM989.61 1177.33h12.55v12.55h-12.55zM1090.02 1177.33h12.55v12.55h-12.55zM1177.88 1177.33h12.55v12.55h-12.55zM1253.19 1177.33h62.76v12.55h-62.76zM864.1 1189.88h12.55v12.55h-12.55zM939.41 1189.88h37.65v12.55h-37.65zM1002.16 1189.88h12.55v12.55h-12.55zM1027.27 1189.88h12.55v12.55h-12.55zM1052.37 1189.88h12.55v12.55h-12.55zM1177.88 1189.88h12.55v12.55h-12.55zM1278.29 1189.88h12.55v12.55h-12.55zM851.55 1202.43h25.1v12.55h-25.1zM939.41 1202.43h12.55v12.55h-12.55zM977.06 1202.43h12.55v12.55h-12.55zM1177.88 1202.43h12.55v12.55h-12.55zM1253.19 1202.43h62.76v12.55h-62.76zM951.96 1214.98h25.1v12.55h-25.1zM1002.16 1214.98h12.55v12.55h-12.55zM1039.82 1214.98h12.55v12.55h-12.55zM1165.33 1214.98h25.1v12.55h-25.1zM1265.74 1214.98h37.65v12.55h-37.65zM989.61 1227.53h37.65v12.55h-37.65zM1140.23 1227.53h50.2v12.55h-50.2zM1366.15 1227.53h12.55v12.55h-12.55zM1002.16 1240.08h12.55v12.55h-12.55zM1027.27 1240.08h12.55v12.55h-12.55zM1052.37 1240.08h12.55v12.55h-12.55zM1077.47 1240.08h12.55v12.55h-12.55zM1165.33 1240.08h25.1v12.55h-25.1zM1315.94 1240.08h62.76v12.55h-62.76zM1002.16 1252.64h12.55v12.55h-12.55zM1027.27 1252.64h37.65v12.55h-37.65zM1077.47 1252.64h12.55v12.55h-12.55zM1177.88 1252.64h12.55v12.55h-12.55zM1290.84 1252.64h75.31v12.55h-75.31zM1027.27 1265.19h37.65v12.55h-37.65zM1077.47 1265.19h12.55v12.55h-12.55zM1102.57 1265.19h12.55v12.55h-12.55zM1177.88 1265.19h12.55v12.55h-12.55zM1215.53 1265.19h25.1v12.55h-25.1zM1265.74 1265.19h37.65v12.55h-37.65zM1328.49 1265.19h50.2v12.55h-50.2zM1052.37 1277.74h12.55v12.55h-12.55zM1090.02 1277.74h37.65v12.55h-37.65zM1190.43 1277.74h25.1v12.55h-25.1zM1228.08 1277.74h50.2v12.55h-50.2zM1303.39 1277.74h62.76v12.55h-62.76zM1077.47 1290.29h25.1v12.55h-25.1zM1115.12 1290.29h12.55v12.55h-12.55zM1240.64 1290.29h50.2v12.55h-50.2zM1303.39 1290.29h50.2v12.55h-50.2zM1077.47 1302.84h12.55v12.55h-12.55zM1115.12 1302.84h25.1v12.55h-25.1zM1253.19 1302.84h75.31v12.55h-75.31zM1127.68 1315.39h37.65v12.55h-37.65zM1253.19 1315.39h12.55v12.55h-12.55zM1014.72 1327.94h12.55v12.55h-12.55zM1064.92 1327.94h50.2v12.55h-50.2zM1152.78 1327.94h25.1v12.55h-25.1zM1240.64 1327.94h12.55v12.55h-12.55zM1278.29 1327.94h12.55v12.55h-12.55zM1002.16 1340.49h12.55v12.55h-12.55zM1039.82 1340.49h12.55v12.55h-12.55zM1077.47 1340.49h37.65v12.55h-37.65zM1177.88 1340.49h25.1v12.55h-25.1zM1228.08 1340.49h12.55v12.55h-12.55zM1253.19 1340.49h12.55v12.55h-12.55zM1278.29 1340.49h12.55v12.55h-12.55zM1027.27 1353.04h37.65v12.55h-37.65zM1102.57 1353.04h25.1v12.55h-25.1zM1177.88 1353.04h62.76v12.55h-62.76zM1265.74 1353.04h12.55v12.55h-12.55zM1002.16 1365.6h62.76v12.55h-62.76zM1090.02 1365.6h12.55v12.55h-12.55zM1165.33 1365.6h50.2v12.55h-50.2zM1228.08 1365.6h25.1v12.55h-25.1zM1002.16 1378.15h112.96v12.55h-112.96zM1152.78 1378.15h25.1v12.55h-25.1zM1202.98 1378.15h62.76v12.55h-62.76zM1002.16 1390.7h87.86v12.55h-87.86zM1165.33 1390.7h62.76v12.55h-62.76zM1240.64 1390.7h25.1v12.55h-25.1zM1002.16 1403.25h100.41v12.55h-100.41zM1165.33 1403.25h25.1v12.55h-25.1zM1215.53 1403.25h25.1v12.55h-25.1z"/>
<path fill="#ffe2b2" d="M1165.33 963.96h12.55v12.55h-12.55zM1165.33 976.51h12.55v12.55h-12.55zM864.1 989.06h12.55v12.55h-12.55zM977.06 1001.61h50.2v12.55h-50.2zM977.06 1014.16h12.55v12.55h-12.55zM1027.27 1014.16h25.1v12.55h-25.1zM1002.16 1026.72h12.55v12.55h-12.55zM1027.27 1026.72h25.1v12.55h-25.1zM1064.92 1026.72h12.55v12.55h-12.55zM977.06 1039.27h12.55v12.55h-12.55zM1002.16 1039.27h37.65v12.55h-37.65zM1052.37 1039.27h12.55v12.55h-12.55zM1002.16 1051.82h87.86v12.55h-87.86zM1039.82 1064.37h25.1v12.55h-25.1zM1077.47 1064.37h12.55v12.55h-12.55zM951.96 1076.92h25.1v12.55h-25.1zM1002.16 1076.92h25.1v12.55h-25.1zM1039.82 1076.92h12.55v12.55h-12.55zM1152.78 1076.92h12.55v12.55h-12.55zM1177.88 1076.92h25.1v12.55h-25.1zM951.96 1089.47h12.55v12.55h-12.55zM989.61 1089.47h87.86v12.55h-87.86zM1090.02 1089.47h37.65v12.55h-37.65zM1152.78 1089.47h12.55v12.55h-12.55zM1190.43 1089.47h12.55v12.55h-12.55zM989.61 1102.02h125.51v12.55h-125.51zM1127.68 1102.02h12.55v12.55h-12.55zM1152.78 1102.02h12.55v12.55h-12.55zM1190.43 1102.02h12.55v12.55h-12.55zM977.06 1114.57h138.06v12.55h-138.06zM1152.78 1114.57h25.1v12.55h-25.1zM1190.43 1114.57h12.55v12.55h-12.55zM939.41 1127.12h12.55v12.55h-12.55zM977.06 1127.12h87.86v12.55h-87.86zM1077.47 1127.12h75.31v12.55h-75.31zM1177.88 1127.12h12.55v12.55h-12.55zM939.41 1139.68h12.55v12.55h-12.55zM977.06 1139.68h12.55v12.55h-12.55zM1002.16 1139.68h150.61v12.55h-150.61zM989.61 1152.23h25.1v12.55h-25.1zM1027.27 1152.23h75.31v12.55h-75.31zM1115.12 1152.23h37.65v12.55h-37.65zM964.51 1164.78h25.1v12.55h-25.1zM1002.16 1164.78h12.55v12.55h-12.55zM1027.27 1164.78h75.31v12.55h-75.31zM1127.68 1164.78h37.65v12.55h-37.65zM1002.16 1177.33h62.76v12.55h-62.76zM1077.47 1177.33h12.55v12.55h-12.55zM1102.57 1177.33h75.31v12.55h-75.31zM977.06 1189.88h25.1v12.55h-25.1zM1014.72 1189.88h12.55v12.55h-12.55zM1039.82 1189.88h12.55v12.55h-12.55zM1064.92 1189.88h112.96v12.55h-112.96zM1265.74 1189.88h12.55v12.55h-12.55zM1290.84 1189.88h12.55v12.55h-12.55zM964.51 1202.43h12.55v12.55h-12.55zM989.61 1202.43h25.1v12.55h-25.1zM1039.82 1202.43h75.31v12.55h-75.31zM1127.68 1202.43h50.2v12.55h-50.2zM1027.27 1214.98h12.55v12.55h-12.55zM1052.37 1214.98h12.55v12.55h-12.55zM1090.02 1214.98h12.55v12.55h-12.55zM1127.68 1214.98h37.65v12.55h-37.65zM1027.27 1227.53h50.2v12.55h-50.2zM1127.68 1227.53h12.55v12.55h-12.55zM1039.82 1240.08h12.55v12.55h-12.55zM1090.02 1240.08h25.1v12.55h-25.1zM1127.68 1240.08h37.65v12.55h-37.65zM1090.02 1252.64h25.1v12.55h-25.1zM1127.68 1252.64h12.55v12.55h-12.55zM1165.33 1252.64h12.55v12.55h-12.55zM1115.12 1265.19h25.1v12.55h-25.1zM1152.78 1265.19h25.1v12.55h-25.1zM1303.39 1265.19h25.1v12.55h-25.1zM1127.68 1277.74h62.76v12.55h-62.76zM1215.53 1277.74h12.55v12.55h-12.55zM1278.29 1277.74h25.1v12.55h-25.1zM1127.68 1290.29h25.1v12.55h-25.1zM1165.33 1290.29h12.55v12.55h-12.55zM1202.98 1290.29h37.65v12.55h-37.65zM1290.84 1290.29h12.55v12.55h-12.55zM1140.23 1302.84h25.1v12.55h-25.1zM1228.08 1302.84h25.1v12.55h-25.1zM1165.33 1315.39h12.55v12.55h-12.55zM1228.08 1315.39h25.1v12.55h-25.1zM1177.88 1327.94h37.65v12.55h-37.65zM1228.08 1327.94h12.55v12.55h-12.55zM1202.98 1340.49h25.1v12.55h-25.1zM1064.92 1353.04h12.55v12.55h-12.55zM1090.02 1353.04h12.55v12.55h-12.55zM1064.92 1365.6h25.1v12.55h-25.1zM1177.88 1378.15h25.1v12.55h-25.1zM1190.43 1403.25h25.1v12.55h-25.1z"/>
<path fill="#f4a460" d="M989.61 1014.16h37.65v12.55h-37.65zM1014.72 1026.72h12.55v12.55h-12.55zM1064.92 1064.37h12.55v12.55h-12.55zM1165.33 1076.92h12.55v12.55h-12.55zM1165.33 1089.47h25.1v12.55h-25.1zM1177.88 1102.02h12.55v12.55h-12.55zM1115.12 1114.57h25.1v12.55h-25.1zM1177.88 1114.57h12.55v12.55h-12.55zM989.61 1139.68h12.55v12.55h-12.55zM1115.12 1164.78h12.55v12.55h-12.55zM1064.92 1177.33h12.55v12.55h-12.55zM1014.72 1202.43h25.1v12.55h-25.1zM1115.12 1202.43h12.55v12.55h-12.55zM1064.92 1214.98h25.1v12.55h-25.1zM1102.57 1214.98h25.1v12.55h-25.1zM1077.47 1227.53h37.65v12.55h-37.65zM1064.92 1240.08h12.55v12.55h-12.55zM1115.12 1240.08h12.55v12.55h-12.55zM1064.92 1252.64h12.55v12.55h-12.55zM1115.12 1252.64h12.55v12.55h-12.55zM1140.23 1252.64h25.1v12.55h-25.1zM1140.23 1265.19h12.55v12.55h-12.55zM1152.78 1290.29h12.55v12.55h-12.55zM1177.88 1290.29h25.1v12.55h-25.1zM1165.33 1302.84h12.55v12.55h-12.55zM1190.43 1302.84h12.55v12.55h-12.55zM1177.88 1315.39h50.2v12.55h-50.2zM1215.53 1327.94h12.55v12.55h-12.55zM1077.47 1353.04h12.55v12.55h-12.55z"/>
<path fill="#e3eef9" d="M851.55 1064.37h12.55v12.55h-12.55zM851.55 1089.47h12.55v12.55h-12.55zM1366.15 1378.15h12.55v12.55h-12.55zM1253.19 1403.25h12.55v12.55h-12.55z"/>
<path fill="#ee7600" d="M1115.12 1102.02h12.55v12.55h-12.55zM1165.33 1102.02h12.55v12.55h-12.55zM1115.12 1227.53h12.55v12.55h-12.55zM1177.88 1302.84h12.55v12.55h-12.55zM1202.98 1302.84h25.1v12.55h-25.1z"/>
<path fill="none" stroke="#000" stroke-width="1" stroke-opacity="0.7" shape-rendering="crispEdges" d="M851.55 851V1415.8M839 863.55H1403.8M864.1 851V1415.8M839 876.1H1403.8M876.65 851V1415.8M839 888.65H1403.8M889.2 851V1415.8M839 901.2H1403.8M901.76 851V1415.8M839 913.76H1403.8M914.31 851V1415.8M839 926.31H1403.8M926.86 851V1415.8M839 938.86H1403.8M939.41 851V1415.8M839 951.41H1403.8M951.96 851V1415.8M839 963.96H1403.8M964.51 851V1415.8M839 976.51H1403.8M977.06 851V1415.8M839 989.06H1403.8M989.61 851V1415.8M839 1001.61H1403.8M1002.16 851V1415.8M839 1014.16H1403.8M1014.72 851V1415.8M839 1026.72H1403.8M1027.27 851V1415.8M839 1039.27H1403.8M1039.82 851V1415.8M839 1051.82H1403.8M1052.37 851V1415.8M839 1064.37H1403.8M1064.92 851V1415.8M839 1076.92H1403.8M1077.47 851V1415.8M839 1089.47H1403.8M1090.02 851V1415.8M839 1102.02H1403.8M1102.57 851V1415.8M839 1114.57H1403.8M1115.12 851V1415.8M839 1127.12H1403.8M1127.68 851V1415.8M839 1139.68H1403.8M1140.23 851V1415.8M839 1152.23H1403.8M1152.78 851V1415.8M839 1164.78H1403.8M1165.33 851V1415.8M839 1177.33H1403.8M1177.88 851V1415.8M839 1189.88H1403.8M1190.43 851V1415.8M839 1202.43H1403.8M1202.98 851V1415.8M839 1214.98H1403.8M1215.53 851V1415.8M839 1227.53H1403.8M1228.08 851V1415.8M839 1240.08H1403.8M1240.64 851V1415.8M839 1252.64H1403.8M1253.19 851V1415.8M839 1265.19H1403.8M1265.74 851V1415.8M839 1277.74H1403.8M1278.29 851V1415.8M839 1290.29H1403.8M1290.84 851V1415.8M839 1302.84H1403.8M1303.39 851V1415.8M839 1315.39H1403.8M1315.94 851V1415.8M839 1327.94H1403.8M1328.49 851V1415.8M839 1340.49H1403.8M1341.04 851V1415.8M839 1353.04H1403.8M1353.6 851V1415.8M839 1365.6H1403.8M1366.15 851V1415.8M839 1378.15H1403.8M1378.7 851V1415.8M839 1390.7H1403.8M1391.25 851V1415.8M839 1403.25H1403.8"/>
<rect x="839" y="851" width="564.8" height="564.8" fill="none" stroke="#000" stroke-width="2.1"/>
<path stroke="#000" stroke-width="2.1" fill="none" d="M824.4 1415.8H839M839 1415.8V1430.5M824.4 1227.53H839M1027.27 1415.8V1430.5M824.4 1039.27H839M1215.53 1415.8V1430.5M824.4 851H839M1403.8 1415.8V1430.5"/>
<circle cx="1118.26" cy="882.82" r="7.4" fill="none" stroke="#000" stroke-width="2"/>
<circle cx="989.49" cy="1031.48" r="7.4" fill="none" stroke="#000" stroke-width="2"/>
<circle cx="1266.49" cy="1011.21" r="7.4" fill="none" stroke="#000" stroke-width="2"/>
<circle cx="1235.87" cy="1096.37" r="7.4" fill="none" stroke="#000" stroke-width="2"/>
<circle cx="1115.44" cy="1173.25" r="7.4" fill="none" stroke="#000" stroke-width="2"/>
<circle cx="1213.02" cy="1336.6" r="7.4" fill="none" stroke="#000" stroke-width="2"/>
<text x="776.38" y="1423.13" font-size="21.3" letter-spacing="1.8" fill="#303030">0.</text>
<text x="846.18" y="1458.73" font-size="21.3" letter-spacing="1.8" fill="#303030">0.</text>
<text x="762.73" y="1234.87" font-size="21.3" letter-spacing="1.8" fill="#303030">30.</text>
<text x="1020.8" y="1458.73" font-size="21.3" letter-spacing="1.8" fill="#303030">30.</text>
<text x="762.73" y="1046.6" font-size="21.3" letter-spacing="1.8" fill="#303030">60.</text>
<text x="1209.07" y="1458.73" font-size="21.3" letter-spacing="1.8" fill="#303030">60.</text>
<text x="762.73" y="858.33" font-size="21.3" letter-spacing="1.8" fill="#303030">90.</text>
<text x="1397.33" y="1458.73" font-size="21.3" letter-spacing="1.8" fill="#303030">90.</text>
<text x="957.26 989.36 1021.31 1056.53 1093.57 1125.66 1157.51 1217.39" y="820.1" font-size="48.5" fill="none" stroke="#707070" stroke-width="1.05">350−450m</text>
<rect x="165.7" y="1562.7" width="558.7" height="558.5" fill="#f0ffff"/>
<rect x="165.7" y="1562.7" width="12.42" height="558.5" fill="#fff"/>
<path fill="#fdf5e6" d="M252.61 1637.17h37.25v12.41h-37.25zM252.61 1649.58h49.66v12.41h-49.66zM240.19 1661.99h74.49v12.41h-74.49zM190.53 1674.4h24.83v12.41h-24.83zM240.19 1674.4h74.49v12.41h-74.49zM190.53 1686.81h24.83v12.41h-24.83zM240.19 1686.81h62.08v12.41h-62.08zM178.12 1699.22h12.42v12.41h-12.42zM202.95 1699.22h24.83v12.41h-24.83zM240.19 1699.22h62.08v12.41h-62.08zM190.53 1711.63h24.83v12.41h-24.83zM252.61 1711.63h37.25v12.41h-37.25zM190.53 1724.04h74.49v12.41h-74.49zM376.76 1724.04h12.42v12.41h-12.42zM190.53 1736.46h86.91v12.41h-86.91zM364.35 1736.46h62.08v12.41h-62.08zM178.12 1748.87h12.42v12.41h-12.42zM202.95 1748.87h74.49v12.41h-74.49zM364.35 1748.87h12.42v12.41h-12.42zM401.6 1748.87h24.83v12.41h-24.83zM190.53 1761.28h12.42v12.41h-12.42zM215.36 1761.28h62.08v12.41h-62.08zM364.35 1761.28h49.66v12.41h-49.66zM190.53 1773.69h99.32v12.41h-99.32zM389.18 1773.69h12.42v12.41h-12.42zM476.09 1773.69h12.42v12.41h-12.42zM500.92 1773.69h24.83v12.41h-24.83zM178.12 1786.1h24.83v12.41h-24.83zM215.36 1786.1h62.08v12.41h-62.08zM364.35 1786.1h62.08v12.41h-62.08zM463.67 1786.1h12.42v12.41h-12.42zM190.53 1798.51h86.91v12.41h-86.91zM351.93 1798.51h24.83v12.41h-24.83zM401.6 1798.51h24.83v12.41h-24.83zM463.67 1798.51h12.42v12.41h-12.42zM190.53 1810.92h12.42v12.41h-12.42zM215.36 1810.92h74.49v12.41h-74.49zM351.93 1810.92h12.42v12.41h-12.42zM401.6 1810.92h49.66v12.41h-49.66zM463.67 1810.92h12.42v12.41h-12.42zM525.75 1810.92h12.42v12.41h-12.42zM202.95 1823.33h111.74v12.41h-111.74zM339.52 1823.33h12.42v12.41h-12.42zM426.43 1823.33h49.66v12.41h-49.66zM525.75 1823.33h12.42v12.41h-12.42zM202.95 1835.74h62.08v12.41h-62.08zM277.44 1835.74h74.49v12.41h-74.49zM376.76 1835.74h24.83v12.41h-24.83zM426.43 1835.74h24.83v12.41h-24.83zM476.09 1835.74h24.83v12.41h-24.83zM513.34 1835.74h12.42v12.41h-12.42zM178.12 1848.16h86.91v12.41h-86.91zM277.44 1848.16h37.25v12.41h-37.25zM364.35 1848.16h12.42v12.41h-12.42zM426.43 1848.16h12.42v12.41h-12.42zM178.12 1860.57h24.83v12.41h-24.83zM215.36 1860.57h99.32v12.41h-99.32zM339.52 1860.57h12.42v12.41h-12.42zM426.43 1860.57h12.42v12.41h-12.42zM463.67 1860.57h37.25v12.41h-37.25zM587.83 1860.57h12.42v12.41h-12.42zM178.12 1872.98h49.66v12.41h-49.66zM252.61 1872.98h49.66v12.41h-49.66zM314.69 1872.98h12.42v12.41h-12.42zM339.52 1872.98h12.42v12.41h-12.42zM389.18 1872.98h12.42v12.41h-12.42zM426.43 1872.98h37.25v12.41h-37.25zM488.5 1872.98h37.25v12.41h-37.25zM563 1872.98h62.08v12.41h-62.08zM178.12 1885.39h24.83v12.41h-24.83zM252.61 1885.39h37.25v12.41h-37.25zM302.27 1885.39h24.83v12.41h-24.83zM414.01 1885.39h37.25v12.41h-37.25zM500.92 1885.39h12.42v12.41h-12.42zM575.41 1885.39h62.08v12.41h-62.08zM265.02 1897.8h12.42v12.41h-12.42zM289.86 1897.8h12.42v12.41h-12.42zM327.1 1897.8h12.42v12.41h-12.42zM351.93 1897.8h12.42v12.41h-12.42zM376.76 1897.8h12.42v12.41h-12.42zM500.92 1897.8h12.42v12.41h-12.42zM575.41 1897.8h12.42v12.41h-12.42zM178.12 1910.21h12.42v12.41h-12.42zM265.02 1910.21h12.42v12.41h-12.42zM289.86 1910.21h24.83v12.41h-24.83zM500.92 1910.21h12.42v12.41h-12.42zM575.41 1910.21h62.08v12.41h-62.08zM277.44 1922.62h24.83v12.41h-24.83zM327.1 1922.62h12.42v12.41h-12.42zM364.35 1922.62h12.42v12.41h-12.42zM488.5 1922.62h24.83v12.41h-24.83zM587.83 1922.62h37.25v12.41h-37.25zM314.69 1935.03h37.25v12.41h-37.25zM463.67 1935.03h37.25v12.41h-37.25zM662.32 1935.03h37.25v12.41h-37.25zM327.1 1947.44h12.42v12.41h-12.42zM351.93 1947.44h12.42v12.41h-12.42zM376.76 1947.44h12.42v12.41h-12.42zM401.6 1947.44h12.42v12.41h-12.42zM451.26 1947.44h12.42v12.41h-12.42zM649.91 1947.44h49.66v12.41h-49.66zM327.1 1959.86h12.42v12.41h-12.42zM351.93 1959.86h37.25v12.41h-37.25zM401.6 1959.86h12.42v12.41h-12.42zM451.26 1959.86h12.42v12.41h-12.42zM662.32 1959.86h24.83v12.41h-24.83zM351.93 1972.27h24.83v12.41h-24.83zM401.6 1972.27h12.42v12.41h-12.42zM426.43 1972.27h86.91v12.41h-86.91zM662.32 1972.27h37.25v12.41h-37.25zM414.01 1984.68h37.25v12.41h-37.25zM500.92 1984.68h12.42v12.41h-12.42zM662.32 1984.68h37.25v12.41h-37.25zM414.01 1997.09h12.42v12.41h-12.42zM438.84 1997.09h12.42v12.41h-12.42zM500.92 1997.09h12.42v12.41h-12.42zM662.32 1997.09h24.83v12.41h-24.83zM401.6 2009.5h12.42v12.41h-12.42zM438.84 2009.5h24.83v12.41h-24.83zM488.5 2009.5h24.83v12.41h-24.83zM451.26 2021.91h49.66v12.41h-49.66z"/>
<path fill="#ffe2b2" d="M190.53 1699.22h12.42v12.41h-12.42zM376.76 1748.87h24.83v12.41h-24.83zM488.5 1773.69h12.42v12.41h-12.42zM476.09 1786.1h12.42v12.41h-12.42zM500.92 1786.1h24.83v12.41h-24.83zM376.76 1798.51h24.83v12.41h-24.83zM476.09 1798.51h12.42v12.41h-12.42zM513.34 1798.51h12.42v12.41h-12.42zM364.35 1810.92h37.25v12.41h-37.25zM476.09 1810.92h12.42v12.41h-12.42zM513.34 1810.92h12.42v12.41h-12.42zM351.93 1823.33h74.49v12.41h-74.49zM476.09 1823.33h24.83v12.41h-24.83zM513.34 1823.33h12.42v12.41h-12.42zM265.02 1835.74h12.42v12.41h-12.42zM351.93 1835.74h24.83v12.41h-24.83zM401.6 1835.74h24.83v12.41h-24.83zM500.92 1835.74h12.42v12.41h-12.42zM265.02 1848.16h12.42v12.41h-12.42zM314.69 1848.16h24.83v12.41h-24.83zM351.93 1848.16h12.42v12.41h-12.42zM376.76 1848.16h49.66v12.41h-49.66zM314.69 1860.57h24.83v12.41h-24.83zM351.93 1860.57h74.49v12.41h-74.49zM302.27 1872.98h12.42v12.41h-12.42zM327.1 1872.98h12.42v12.41h-12.42zM351.93 1872.98h37.25v12.41h-37.25zM401.6 1872.98h24.83v12.41h-24.83zM463.67 1872.98h24.83v12.41h-24.83zM327.1 1885.39h86.91v12.41h-86.91zM451.26 1885.39h49.66v12.41h-49.66zM277.44 1897.8h12.42v12.41h-12.42zM302.27 1897.8h24.83v12.41h-24.83zM339.52 1897.8h12.42v12.41h-12.42zM364.35 1897.8h12.42v12.41h-12.42zM389.18 1897.8h111.74v12.41h-111.74zM587.83 1897.8h37.25v12.41h-37.25zM314.69 1910.21h24.83v12.41h-24.83zM364.35 1910.21h12.42v12.41h-12.42zM401.6 1910.21h99.32v12.41h-99.32zM351.93 1922.62h12.42v12.41h-12.42zM376.76 1922.62h12.42v12.41h-12.42zM414.01 1922.62h12.42v12.41h-12.42zM451.26 1922.62h37.25v12.41h-37.25zM351.93 1935.03h49.66v12.41h-49.66zM414.01 1935.03h12.42v12.41h-12.42zM451.26 1935.03h12.42v12.41h-12.42zM364.35 1947.44h12.42v12.41h-12.42zM389.18 1947.44h12.42v12.41h-12.42zM414.01 1947.44h37.25v12.41h-37.25zM389.18 1959.86h12.42v12.41h-12.42zM414.01 1959.86h37.25v12.41h-37.25zM451.26 1984.68h49.66v12.41h-49.66zM451.26 1997.09h24.83v12.41h-24.83zM488.5 1997.09h12.42v12.41h-12.42zM463.67 2009.5h24.83v12.41h-24.83z"/>
<path fill="#e3eef9" d="M178.12 1761.28h12.42v12.41h-12.42zM178.12 1773.69h12.42v12.41h-12.42zM178.12 1798.51h12.42v12.41h-12.42zM687.15 2083.97h12.42v12.41h-12.42z"/>
<path fill="#f4a460" d="M488.5 1786.1h12.42v12.41h-12.42zM488.5 1798.51h24.83v12.41h-24.83zM500.92 1810.92h12.42v12.41h-12.42zM500.92 1823.33h12.42v12.41h-12.42zM339.52 1848.16h12.42v12.41h-12.42zM339.52 1910.21h24.83v12.41h-24.83zM376.76 1910.21h24.83v12.41h-24.83zM389.18 1922.62h24.83v12.41h-24.83zM426.43 1922.62h24.83v12.41h-24.83zM401.6 1935.03h12.42v12.41h-12.42zM426.43 1935.03h12.42v12.41h-12.42zM476.09 1997.09h12.42v12.41h-12.42z"/>
<path fill="#ee7600" d="M488.5 1810.92h12.42v12.41h-12.42zM438.84 1935.03h12.42v12.41h-12.42z"/>
<path fill="none" stroke="#000" stroke-width="1" stroke-opacity="0.7" shape-rendering="crispEdges" d="M178.12 1562.7V2121.2M165.7 1575.11H724.4M190.53 1562.7V2121.2M165.7 1587.52H724.4M202.95 1562.7V2121.2M165.7 1599.93H724.4M215.36 1562.7V2121.2M165.7 1612.34H724.4M227.78 1562.7V2121.2M165.7 1624.76H724.4M240.19 1562.7V2121.2M165.7 1637.17H724.4M252.61 1562.7V2121.2M165.7 1649.58H724.4M265.02 1562.7V2121.2M165.7 1661.99H724.4M277.44 1562.7V2121.2M165.7 1674.4H724.4M289.86 1562.7V2121.2M165.7 1686.81H724.4M302.27 1562.7V2121.2M165.7 1699.22H724.4M314.69 1562.7V2121.2M165.7 1711.63H724.4M327.1 1562.7V2121.2M165.7 1724.04H724.4M339.52 1562.7V2121.2M165.7 1736.46H724.4M351.93 1562.7V2121.2M165.7 1748.87H724.4M364.35 1562.7V2121.2M165.7 1761.28H724.4M376.76 1562.7V2121.2M165.7 1773.69H724.4M389.18 1562.7V2121.2M165.7 1786.1H724.4M401.6 1562.7V2121.2M165.7 1798.51H724.4M414.01 1562.7V2121.2M165.7 1810.92H724.4M426.43 1562.7V2121.2M165.7 1823.33H724.4M438.84 1562.7V2121.2M165.7 1835.74H724.4M451.26 1562.7V2121.2M165.7 1848.16H724.4M463.67 1562.7V2121.2M165.7 1860.57H724.4M476.09 1562.7V2121.2M165.7 1872.98H724.4M488.5 1562.7V2121.2M165.7 1885.39H724.4M500.92 1562.7V2121.2M165.7 1897.8H724.4M513.34 1562.7V2121.2M165.7 1910.21H724.4M525.75 1562.7V2121.2M165.7 1922.62H724.4M538.17 1562.7V2121.2M165.7 1935.03H724.4M550.58 1562.7V2121.2M165.7 1947.44H724.4M563 1562.7V2121.2M165.7 1959.86H724.4M575.41 1562.7V2121.2M165.7 1972.27H724.4M587.83 1562.7V2121.2M165.7 1984.68H724.4M600.24 1562.7V2121.2M165.7 1997.09H724.4M612.66 1562.7V2121.2M165.7 2009.5H724.4M625.08 1562.7V2121.2M165.7 2021.91H724.4M637.49 1562.7V2121.2M165.7 2034.32H724.4M649.91 1562.7V2121.2M165.7 2046.73H724.4M662.32 1562.7V2121.2M165.7 2059.14H724.4M674.74 1562.7V2121.2M165.7 2071.56H724.4M687.15 1562.7V2121.2M165.7 2083.97H724.4M699.57 1562.7V2121.2M165.7 2096.38H724.4M711.98 1562.7V2121.2M165.7 2108.79H724.4"/>
<rect x="165.7" y="1562.7" width="558.7" height="558.5" fill="none" stroke="#000" stroke-width="2.1"/>
<path stroke="#000" stroke-width="2.1" fill="none" d="M151.1 2121.2H165.7M165.7 2121.2V2135.9M151.1 1935.03H165.7M351.93 2121.2V2135.9M151.1 1748.87H165.7M538.17 2121.2V2135.9M151.1 1562.7H165.7M724.4 2121.2V2135.9"/>
<circle cx="441.95" cy="1594.16" r="7.4" fill="none" stroke="#000" stroke-width="2"/>
<circle cx="314.56" cy="1741.17" r="7.4" fill="none" stroke="#000" stroke-width="2"/>
<circle cx="588.57" cy="1721.13" r="7.4" fill="none" stroke="#000" stroke-width="2"/>
<circle cx="558.28" cy="1805.34" r="7.4" fill="none" stroke="#000" stroke-width="2"/>
<circle cx="439.15" cy="1881.36" r="7.4" fill="none" stroke="#000" stroke-width="2"/>
<circle cx="535.68" cy="2042.89" r="7.4" fill="none" stroke="#000" stroke-width="2"/>
<text x="103.08" y="2128.53" font-size="21.3" letter-spacing="1.8" fill="#303030">0.</text>
<text x="172.88" y="2164.13" font-size="21.3" letter-spacing="1.8" fill="#303030">0.</text>
<text x="89.43" y="1942.37" font-size="21.3" letter-spacing="1.8" fill="#303030">30.</text>
<text x="345.47" y="2164.13" font-size="21.3" letter-spacing="1.8" fill="#303030">30.</text>
<text x="89.43" y="1756.2" font-size="21.3" letter-spacing="1.8" fill="#303030">60.</text>
<text x="531.7" y="2164.13" font-size="21.3" letter-spacing="1.8" fill="#303030">60.</text>
<text x="89.43" y="1570.03" font-size="21.3" letter-spacing="1.8" fill="#303030">90.</text>
<text x="717.93" y="2164.13" font-size="21.3" letter-spacing="1.8" fill="#303030">90.</text>
<text x="281.16 313.26 345.21 380.44 417.36 449.56 481.41 541.41" y="1531.7" font-size="47.6" fill="none" stroke="#707070" stroke-width="1.05">450−550m</text>
<g transform="translate(36.5 1847.35) rotate(-90)"><text x="-172.94" y="0" font-size="33.4" letter-spacing="2.99" fill="none" stroke="#707070" stroke-width="1.05">Distance north (km)</text></g>
<text x="280.31" y="2198.2" font-size="33.4" letter-spacing="2.97" fill="none" stroke="#707070" stroke-width="1.05">Distance east (km)</text>
<rect x="165.3" y="2241.9" width="37.59" height="19.3" fill="#cd0000"/>
<rect x="202.59" y="2241.9" width="37.59" height="19.3" fill="#ee0000"/>
<rect x="239.89" y="2241.9" width="37.59" height="19.3" fill="#dd3311"/>
<rect x="277.18" y="2241.9" width="37.59" height="19.3" fill="#ee7600"/>
<rect x="314.47" y="2241.9" width="37.59" height="19.3" fill="#f4a460"/>
<rect x="351.77" y="2241.9" width="37.59" height="19.3" fill="#ffe2b2"/>
<rect x="389.06" y="2241.9" width="37.59" height="19.3" fill="#fdf5e6"/>
<rect x="426.35" y="2241.9" width="37.59" height="19.3" fill="#f0ffff"/>
<rect x="463.65" y="2241.9" width="37.59" height="19.3" fill="#e3eef9"/>
<rect x="500.94" y="2241.9" width="37.59" height="19.3" fill="#d1eeee"/>
<rect x="538.23" y="2241.9" width="37.59" height="19.3" fill="#add8e6"/>
<rect x="575.53" y="2241.9" width="37.59" height="19.3" fill="#5cacee"/>
<rect x="612.82" y="2241.9" width="37.59" height="19.3" fill="#1874cd"/>
<rect x="650.11" y="2241.9" width="37.59" height="19.3" fill="#104e8b"/>
<rect x="687.41" y="2241.9" width="37.59" height="19.3" fill="#191970"/>
<text x="128" y="2293.16" font-size="20.8" letter-spacing="2.4" fill="#303030">−2000.</text>
<text x="699.85" y="2293.16" font-size="20.8" letter-spacing="2.1" fill="#303030">2000.</text>
<text x="245.61" y="2293.3" font-size="21.6" letter-spacing="3.6" fill="#404040">Volume Change (Acre−Feet)</text>
<rect x="840.9" y="1563.6" width="557.9" height="558" fill="#f0ffff"/>
<rect x="840.9" y="1563.6" width="12.4" height="558" fill="#fff"/>
<path fill="#fdf5e6" d="M915.29 1662.8h37.19v12.4h-37.19zM915.29 1675.2h49.59v12.4h-49.59zM915.29 1687.6h61.99v12.4h-61.99zM915.29 1700h61.99v12.4h-61.99zM927.68 1712.4h37.19v12.4h-37.19zM865.7 1774.4h37.19v12.4h-37.19zM865.7 1786.8h12.4v12.4h-12.4zM890.49 1786.8h12.4v12.4h-12.4zM865.7 1799.2h12.4v12.4h-12.4zM890.49 1799.2h12.4v12.4h-12.4zM940.08 1799.2h12.4v12.4h-12.4zM1088.86 1799.2h12.4v12.4h-12.4zM865.7 1811.6h12.4v12.4h-12.4zM890.49 1811.6h12.4v12.4h-12.4zM915.29 1811.6h37.19v12.4h-37.19zM1076.46 1811.6h49.59v12.4h-49.59zM878.09 1824h24.8v12.4h-24.8zM915.29 1824h74.39v12.4h-74.39zM1064.06 1824h12.4v12.4h-12.4zM1101.25 1824h24.8v12.4h-24.8zM865.7 1836.4h136.38v12.4h-136.38zM1064.06 1836.4h12.4v12.4h-12.4zM1101.25 1836.4h24.8v12.4h-24.8zM865.7 1848.8h49.59v12.4h-49.59zM940.08 1848.8h61.99v12.4h-61.99zM1064.06 1848.8h49.59v12.4h-49.59zM865.7 1861.2h12.4v12.4h-12.4zM890.49 1861.2h24.8v12.4h-24.8zM952.48 1861.2h49.59v12.4h-49.59zM1026.87 1861.2h49.59v12.4h-49.59zM1138.45 1861.2h37.19v12.4h-37.19zM1262.42 1861.2h12.4v12.4h-12.4zM890.49 1873.6h12.4v12.4h-12.4zM952.48 1873.6h37.19v12.4h-37.19zM1026.87 1873.6h12.4v12.4h-12.4zM1064.06 1873.6h12.4v12.4h-12.4zM1126.05 1873.6h12.4v12.4h-12.4zM1163.24 1873.6h37.19v12.4h-37.19zM1237.63 1873.6h61.99v12.4h-61.99zM1014.47 1886h24.8v12.4h-24.8zM1076.46 1886h49.59v12.4h-49.59zM1175.64 1886h12.4v12.4h-12.4zM1250.03 1886h61.99v12.4h-61.99zM989.67 1898.4h12.4v12.4h-12.4zM1014.47 1898.4h12.4v12.4h-12.4zM1039.26 1898.4h24.8v12.4h-24.8zM1076.46 1898.4h12.4v12.4h-12.4zM1113.65 1898.4h12.4v12.4h-12.4zM1175.64 1898.4h12.4v12.4h-12.4zM1250.03 1898.4h12.4v12.4h-12.4zM989.67 1910.8h12.4v12.4h-12.4zM1039.26 1910.8h12.4v12.4h-12.4zM1113.65 1910.8h12.4v12.4h-12.4zM1175.64 1910.8h12.4v12.4h-12.4zM1250.03 1910.8h61.99v12.4h-61.99zM1002.07 1923.2h12.4v12.4h-12.4zM1026.87 1923.2h24.8v12.4h-24.8zM1088.86 1923.2h49.59v12.4h-49.59zM1163.24 1923.2h24.8v12.4h-24.8zM1262.42 1923.2h37.19v12.4h-37.19zM1002.07 1935.6h12.4v12.4h-12.4zM1026.87 1935.6h12.4v12.4h-12.4zM1064.06 1935.6h12.4v12.4h-12.4zM1101.25 1935.6h74.39v12.4h-74.39zM1002.07 1948h12.4v12.4h-12.4zM1051.66 1948h74.39v12.4h-74.39zM1026.87 1960.4h37.19v12.4h-37.19zM1076.46 1960.4h12.4v12.4h-12.4zM1101.25 1960.4h24.8v12.4h-24.8zM1039.26 1972.8h12.4v12.4h-12.4zM1076.46 1972.8h12.4v12.4h-12.4zM1101.25 1972.8h24.8v12.4h-24.8zM1088.86 1985.2h37.19v12.4h-37.19zM1088.86 1997.6h12.4v12.4h-12.4zM1076.46 2010h12.4v12.4h-12.4z"/>
<path fill="#e3eef9" d="M853.3 1774.4h12.4v12.4h-12.4zM853.3 1799.2h12.4v12.4h-12.4zM1361.61 2084.4h12.4v12.4h-12.4z"/>
<path fill="#ffe2b2" d="M1076.46 1824h24.8v12.4h-24.8zM1076.46 1836.4h24.8v12.4h-24.8zM1039.26 1873.6h24.8v12.4h-24.8zM1138.45 1873.6h24.8v12.4h-24.8zM1039.26 1886h37.19v12.4h-37.19zM1126.05 1886h49.59v12.4h-49.59zM1064.06 1898.4h12.4v12.4h-12.4zM1088.86 1898.4h24.8v12.4h-24.8zM1126.05 1898.4h49.59v12.4h-49.59zM1262.42 1898.4h37.19v12.4h-37.19zM1002.07 1910.8h12.4v12.4h-12.4zM1026.87 1910.8h12.4v12.4h-12.4zM1076.46 1910.8h37.19v12.4h-37.19zM1126.05 1910.8h49.59v12.4h-49.59zM1051.66 1923.2h12.4v12.4h-12.4zM1138.45 1923.2h24.8v12.4h-24.8zM1039.26 1935.6h24.8v12.4h-24.8zM1076.46 1935.6h24.8v12.4h-24.8zM1039.26 1948h12.4v12.4h-12.4zM1064.06 1960.4h12.4v12.4h-12.4zM1088.86 1960.4h12.4v12.4h-12.4z"/>
<path fill="#f4a460" d="M1014.47 1910.8h12.4v12.4h-12.4zM1051.66 1910.8h24.8v12.4h-24.8zM1064.06 1923.2h24.8v12.4h-24.8z"/>
<path fill="none" stroke="#000" stroke-width="1" stroke-opacity="0.7" shape-rendering="crispEdges" d="M853.3 1563.6V2121.6M840.9 1576H1398.8M865.7 1563.6V2121.6M840.9 1588.4H1398.8M878.09 1563.6V2121.6M840.9 1600.8H1398.8M890.49 1563.6V2121.6M840.9 1613.2H1398.8M902.89 1563.6V2121.6M840.9 1625.6H1398.8M915.29 1563.6V2121.6M840.9 1638H1398.8M927.68 1563.6V2121.6M840.9 1650.4H1398.8M940.08 1563.6V2121.6M840.9 1662.8H1398.8M952.48 1563.6V2121.6M840.9 1675.2H1398.8M964.88 1563.6V2121.6M840.9 1687.6H1398.8M977.28 1563.6V2121.6M840.9 1700H1398.8M989.67 1563.6V2121.6M840.9 1712.4H1398.8M1002.07 1563.6V2121.6M840.9 1724.8H1398.8M1014.47 1563.6V2121.6M840.9 1737.2H1398.8M1026.87 1563.6V2121.6M840.9 1749.6H1398.8M1039.26 1563.6V2121.6M840.9 1762H1398.8M1051.66 1563.6V2121.6M840.9 1774.4H1398.8M1064.06 1563.6V2121.6M840.9 1786.8H1398.8M1076.46 1563.6V2121.6M840.9 1799.2H1398.8M1088.86 1563.6V2121.6M840.9 1811.6H1398.8M1101.25 1563.6V2121.6M840.9 1824H1398.8M1113.65 1563.6V2121.6M840.9 1836.4H1398.8M1126.05 1563.6V2121.6M840.9 1848.8H1398.8M1138.45 1563.6V2121.6M840.9 1861.2H1398.8M1150.84 1563.6V2121.6M840.9 1873.6H1398.8M1163.24 1563.6V2121.6M840.9 1886H1398.8M1175.64 1563.6V2121.6M840.9 1898.4H1398.8M1188.04 1563.6V2121.6M840.9 1910.8H1398.8M1200.44 1563.6V2121.6M840.9 1923.2H1398.8M1212.83 1563.6V2121.6M840.9 1935.6H1398.8M1225.23 1563.6V2121.6M840.9 1948H1398.8M1237.63 1563.6V2121.6M840.9 1960.4H1398.8M1250.03 1563.6V2121.6M840.9 1972.8H1398.8M1262.42 1563.6V2121.6M840.9 1985.2H1398.8M1274.82 1563.6V2121.6M840.9 1997.6H1398.8M1287.22 1563.6V2121.6M840.9 2010H1398.8M1299.62 1563.6V2121.6M840.9 2022.4H1398.8M1312.02 1563.6V2121.6M840.9 2034.8H1398.8M1324.41 1563.6V2121.6M840.9 2047.2H1398.8M1336.81 1563.6V2121.6M840.9 2059.6H1398.8M1349.21 1563.6V2121.6M840.9 2072H1398.8M1361.61 1563.6V2121.6M840.9 2084.4H1398.8M1374 1563.6V2121.6M840.9 2096.8H1398.8M1386.4 1563.6V2121.6M840.9 2109.2H1398.8"/>
<rect x="840.9" y="1563.6" width="557.9" height="558" fill="none" stroke="#000" stroke-width="2.1"/>
<path stroke="#000" stroke-width="2.1" fill="none" d="M826.3 2121.6H840.9M840.9 2121.6V2136.3M826.3 1935.6H840.9M1026.87 2121.6V2136.3M826.3 1749.6H840.9M1212.83 2121.6V2136.3M826.3 1563.6H840.9M1398.8 2121.6V2136.3"/>
<circle cx="1116.75" cy="1595.03" r="7.4" fill="none" stroke="#000" stroke-width="2"/>
<circle cx="989.55" cy="1741.91" r="7.4" fill="none" stroke="#000" stroke-width="2"/>
<circle cx="1263.17" cy="1721.89" r="7.4" fill="none" stroke="#000" stroke-width="2"/>
<circle cx="1232.92" cy="1806.02" r="7.4" fill="none" stroke="#000" stroke-width="2"/>
<circle cx="1113.96" cy="1881.97" r="7.4" fill="none" stroke="#000" stroke-width="2"/>
<circle cx="1210.35" cy="2043.36" r="7.4" fill="none" stroke="#000" stroke-width="2"/>
<text x="778.28" y="2128.93" font-size="21.3" letter-spacing="1.8" fill="#303030">0.</text>
<text x="848.08" y="2164.53" font-size="21.3" letter-spacing="1.8" fill="#303030">0.</text>
<text x="764.63" y="1942.93" font-size="21.3" letter-spacing="1.8" fill="#303030">30.</text>
<text x="1020.4" y="2164.53" font-size="21.3" letter-spacing="1.8" fill="#303030">30.</text>
<text x="764.63" y="1756.93" font-size="21.3" letter-spacing="1.8" fill="#303030">60.</text>
<text x="1206.37" y="2164.53" font-size="21.3" letter-spacing="1.8" fill="#303030">60.</text>
<text x="764.63" y="1570.93" font-size="21.3" letter-spacing="1.8" fill="#303030">90.</text>
<text x="1392.33" y="2164.53" font-size="21.3" letter-spacing="1.8" fill="#303030">90.</text>
<text x="955.86 988.06 1020.01 1055.24 1091.95 1124.36 1156.21 1216.21" y="1532.2" font-size="47.6" fill="none" stroke="#707070" stroke-width="1.05">550−650m</text>
<text x="955.11" y="2198.6" font-size="33.4" letter-spacing="2.97" fill="none" stroke="#707070" stroke-width="1.05">Distance east (km)</text>
<rect x="840.5" y="2241.9" width="37.54" height="19.3" fill="#cd0000"/>
<rect x="877.74" y="2241.9" width="37.54" height="19.3" fill="#ee0000"/>
<rect x="914.98" y="2241.9" width="37.54" height="19.3" fill="#dd3311"/>
<rect x="952.22" y="2241.9" width="37.54" height="19.3" fill="#ee7600"/>
<rect x="989.46" y="2241.9" width="37.54" height="19.3" fill="#f4a460"/>
<rect x="1026.7" y="2241.9" width="37.54" height="19.3" fill="#ffe2b2"/>
<rect x="1063.94" y="2241.9" width="37.54" height="19.3" fill="#fdf5e6"/>
<rect x="1101.18" y="2241.9" width="37.54" height="19.3" fill="#f0ffff"/>
<rect x="1138.42" y="2241.9" width="37.54" height="19.3" fill="#e3eef9"/>
<rect x="1175.66" y="2241.9" width="37.54" height="19.3" fill="#d1eeee"/>
<rect x="1212.9" y="2241.9" width="37.54" height="19.3" fill="#add8e6"/>
<rect x="1250.14" y="2241.9" width="37.54" height="19.3" fill="#5cacee"/>
<rect x="1287.38" y="2241.9" width="37.54" height="19.3" fill="#1874cd"/>
<rect x="1324.62" y="2241.9" width="37.54" height="19.3" fill="#104e8b"/>
<rect x="1361.86" y="2241.9" width="37.54" height="19.3" fill="#191970"/>
<text x="803.2" y="2293.16" font-size="20.8" letter-spacing="2.4" fill="#303030">−2000.</text>
<text x="1374.25" y="2293.16" font-size="20.8" letter-spacing="2.1" fill="#303030">2000.</text>
<text x="920.81" y="2293.3" font-size="21.6" letter-spacing="3.6" fill="#404040">Volume Change (Acre−Feet)</text>
<g transform="translate(707.7 36.6) scale(1.1 1)"><text x="-2.67" y="0" font-size="53" fill="#000">2018</text></g>
</svg></body></html>
